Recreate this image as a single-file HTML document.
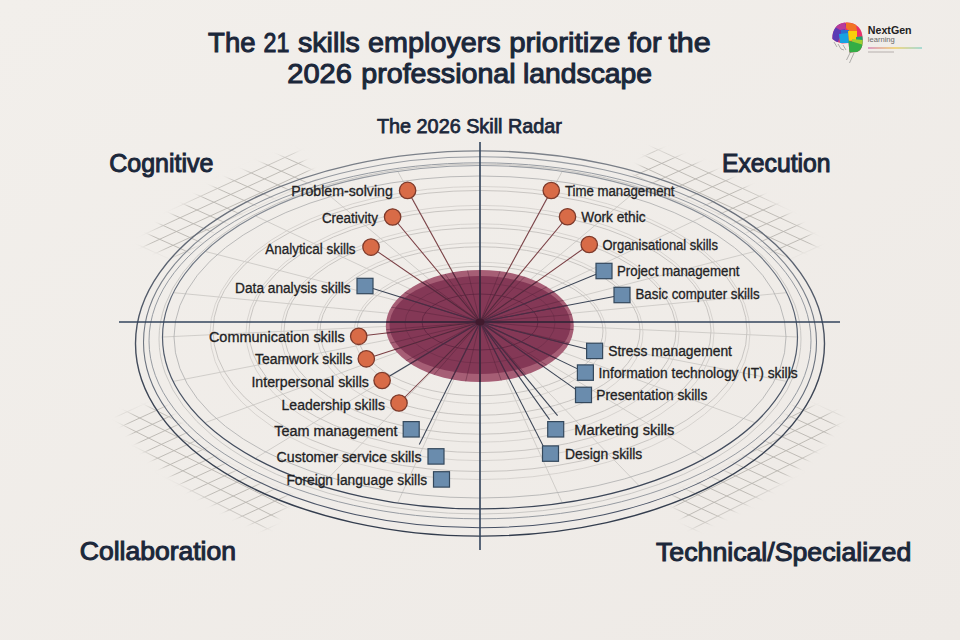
<!DOCTYPE html>
<html><head><meta charset="utf-8"><style>
html,body{margin:0;padding:0;background:#f0ece8;}
svg{display:block;}
text{font-family:"Liberation Sans",sans-serif;}
</style></head><body>
<svg width="960" height="640" viewBox="0 0 960 640">
<defs>
</defs>
<linearGradient id="gD" x1="0" y1="0" x2="0" y2="1"><stop offset="0" stop-color="#7d828a"/><stop offset="0.3" stop-color="#5a6270"/><stop offset="0.6" stop-color="#3d4656"/><stop offset="1" stop-color="#323c4d"/></linearGradient>
<linearGradient id="gM" x1="0" y1="0" x2="0" y2="1"><stop offset="0" stop-color="#999da3"/><stop offset="0.5" stop-color="#6f7681"/><stop offset="1" stop-color="#465064"/></linearGradient>
<linearGradient id="gD2" x1="0" y1="0" x2="0" y2="1"><stop offset="0" stop-color="#9a9ea4"/><stop offset="0.45" stop-color="#566070"/><stop offset="1" stop-color="#3a4456"/></linearGradient>
<linearGradient id="bgg" x1="0" y1="0" x2="1" y2="1"><stop offset="0" stop-color="#f2efeb"/><stop offset="1" stop-color="#eeeae6"/></linearGradient>
<rect width="960" height="640" fill="url(#bgg)"/>

<defs><filter id="blur4" x="-20%" y="-20%" width="140%" height="140%"><feGaussianBlur stdDeviation="3"/></filter></defs>
<mask id="mUL" maskUnits="userSpaceOnUse" x="0" y="0" width="960" height="640"><path d="M181.5,258.6 L185.4,254.5 L189.4,250.5 L193.6,246.5 L198.0,242.6 L202.5,238.8 L207.3,235.0 L212.2,231.3 L217.2,227.6 L222.4,224.1 L227.8,220.6 L233.3,217.1 L239.0,213.8 L244.8,210.5 L250.8,207.3 L256.9,204.2 L263.2,201.2 L269.6,198.3 L276.1,195.4 L282.7,192.7 L289.5,190.0 L296.3,187.5 L303.3,185.0 L310.4,182.6 L317.6,180.3 L295.8,152.3 L287.6,155.0 L279.6,157.8 L271.6,160.7 L263.9,163.7 L256.2,166.8 L248.7,170.0 L241.3,173.4 L234.1,176.8 L227.0,180.4 L220.0,184.0 L213.3,187.7 L206.7,191.6 L200.2,195.5 L193.9,199.5 L187.8,203.6 L181.9,207.8 L176.2,212.1 L170.6,216.4 L165.3,220.8 L160.1,225.3 L155.1,229.9 L150.4,234.5 L145.8,239.3 L141.4,244.0Z" fill="#fff" filter="url(#blur4)"/></mask>
<g mask="url(#mUL)" stroke="#b9b5b0" stroke-width="0.9">
<line x1="60.0" y1="-247.6" x2="900.0" y2="-634.0"/>
<line x1="60.0" y1="-235.5" x2="900.0" y2="-621.9"/>
<line x1="60.0" y1="-223.4" x2="900.0" y2="-609.8"/>
<line x1="60.0" y1="-211.3" x2="900.0" y2="-597.7"/>
<line x1="60.0" y1="-199.2" x2="900.0" y2="-585.6"/>
<line x1="60.0" y1="-187.1" x2="900.0" y2="-573.5"/>
<line x1="60.0" y1="-175.0" x2="900.0" y2="-561.4"/>
<line x1="60.0" y1="-162.8" x2="900.0" y2="-549.2"/>
<line x1="60.0" y1="-150.7" x2="900.0" y2="-537.1"/>
<line x1="60.0" y1="-138.6" x2="900.0" y2="-525.0"/>
<line x1="60.0" y1="-126.5" x2="900.0" y2="-512.9"/>
<line x1="60.0" y1="-114.4" x2="900.0" y2="-500.8"/>
<line x1="60.0" y1="-102.3" x2="900.0" y2="-488.7"/>
<line x1="60.0" y1="-90.2" x2="900.0" y2="-476.6"/>
<line x1="60.0" y1="-78.1" x2="900.0" y2="-464.5"/>
<line x1="60.0" y1="-66.0" x2="900.0" y2="-452.4"/>
<line x1="60.0" y1="-53.9" x2="900.0" y2="-440.3"/>
<line x1="60.0" y1="-41.8" x2="900.0" y2="-428.2"/>
<line x1="60.0" y1="-29.7" x2="900.0" y2="-416.1"/>
<line x1="60.0" y1="-17.6" x2="900.0" y2="-404.0"/>
<line x1="60.0" y1="-5.4" x2="900.0" y2="-391.8"/>
<line x1="60.0" y1="6.7" x2="900.0" y2="-379.7"/>
<line x1="60.0" y1="18.8" x2="900.0" y2="-367.6"/>
<line x1="60.0" y1="30.9" x2="900.0" y2="-355.5"/>
<line x1="60.0" y1="43.0" x2="900.0" y2="-343.4"/>
<line x1="60.0" y1="55.1" x2="900.0" y2="-331.3"/>
<line x1="60.0" y1="67.2" x2="900.0" y2="-319.2"/>
<line x1="60.0" y1="79.3" x2="900.0" y2="-307.1"/>
<line x1="60.0" y1="91.4" x2="900.0" y2="-295.0"/>
<line x1="60.0" y1="103.5" x2="900.0" y2="-282.9"/>
<line x1="60.0" y1="115.6" x2="900.0" y2="-270.8"/>
<line x1="60.0" y1="127.7" x2="900.0" y2="-258.7"/>
<line x1="60.0" y1="139.9" x2="900.0" y2="-246.5"/>
<line x1="60.0" y1="152.0" x2="900.0" y2="-234.4"/>
<line x1="60.0" y1="164.1" x2="900.0" y2="-222.3"/>
<line x1="60.0" y1="176.2" x2="900.0" y2="-210.2"/>
<line x1="60.0" y1="188.3" x2="900.0" y2="-198.1"/>
<line x1="60.0" y1="200.4" x2="900.0" y2="-186.0"/>
<line x1="60.0" y1="212.5" x2="900.0" y2="-173.9"/>
<line x1="60.0" y1="224.6" x2="900.0" y2="-161.8"/>
<line x1="60.0" y1="236.7" x2="900.0" y2="-149.7"/>
<line x1="60.0" y1="248.8" x2="900.0" y2="-137.6"/>
<line x1="60.0" y1="260.9" x2="900.0" y2="-125.5"/>
<line x1="60.0" y1="273.0" x2="900.0" y2="-113.4"/>
<line x1="60.0" y1="285.1" x2="900.0" y2="-101.3"/>
<line x1="60.0" y1="297.3" x2="900.0" y2="-89.1"/>
<line x1="60.0" y1="309.4" x2="900.0" y2="-77.0"/>
<line x1="60.0" y1="321.5" x2="900.0" y2="-64.9"/>
<line x1="60.0" y1="333.6" x2="900.0" y2="-52.8"/>
<line x1="60.0" y1="345.7" x2="900.0" y2="-40.7"/>
<line x1="60.0" y1="357.8" x2="900.0" y2="-28.6"/>
<line x1="60.0" y1="369.9" x2="900.0" y2="-16.5"/>
<line x1="60.0" y1="382.0" x2="900.0" y2="-4.4"/>
<line x1="60.0" y1="394.1" x2="900.0" y2="7.7"/>
<line x1="60.0" y1="406.2" x2="900.0" y2="19.8"/>
<line x1="60.0" y1="418.3" x2="900.0" y2="31.9"/>
<line x1="60.0" y1="430.4" x2="900.0" y2="44.0"/>
<line x1="60.0" y1="442.6" x2="900.0" y2="56.2"/>
<line x1="60.0" y1="454.7" x2="900.0" y2="68.3"/>
<line x1="60.0" y1="466.8" x2="900.0" y2="80.4"/>
<line x1="60.0" y1="478.9" x2="900.0" y2="92.5"/>
<line x1="60.0" y1="491.0" x2="900.0" y2="104.6"/>
<line x1="60.0" y1="503.1" x2="900.0" y2="116.7"/>
<line x1="60.0" y1="515.2" x2="900.0" y2="128.8"/>
<line x1="60.0" y1="527.3" x2="900.0" y2="140.9"/>
<line x1="60.0" y1="539.4" x2="900.0" y2="153.0"/>
<line x1="60.0" y1="551.5" x2="900.0" y2="165.1"/>
<line x1="60.0" y1="563.6" x2="900.0" y2="177.2"/>
<line x1="60.0" y1="575.7" x2="900.0" y2="189.3"/>
<line x1="60.0" y1="587.8" x2="900.0" y2="201.4"/>
<line x1="60.0" y1="600.0" x2="900.0" y2="213.6"/>
<line x1="60.0" y1="612.1" x2="900.0" y2="225.7"/>
<line x1="60.0" y1="624.2" x2="900.0" y2="237.8"/>
<line x1="60.0" y1="636.3" x2="900.0" y2="249.9"/>
<line x1="60.0" y1="648.4" x2="900.0" y2="262.0"/>
<line x1="60.0" y1="660.5" x2="900.0" y2="274.1"/>
<line x1="60.0" y1="672.6" x2="900.0" y2="286.2"/>
<line x1="60.0" y1="684.7" x2="900.0" y2="298.3"/>
<line x1="60.0" y1="696.8" x2="900.0" y2="310.4"/>
<line x1="60.0" y1="708.9" x2="900.0" y2="322.5"/>
<line x1="60.0" y1="721.0" x2="900.0" y2="334.6"/>
<line x1="60.0" y1="733.1" x2="900.0" y2="346.7"/>
<line x1="60.0" y1="745.3" x2="900.0" y2="358.9"/>
<line x1="60.0" y1="757.4" x2="900.0" y2="371.0"/>
<line x1="60.0" y1="769.5" x2="900.0" y2="383.1"/>
<line x1="60.0" y1="781.6" x2="900.0" y2="395.2"/>
<line x1="60.0" y1="793.7" x2="900.0" y2="407.3"/>
<line x1="60.0" y1="805.8" x2="900.0" y2="419.4"/>
<line x1="60.0" y1="817.9" x2="900.0" y2="431.5"/>
<line x1="60.0" y1="830.0" x2="900.0" y2="443.6"/>
<line x1="60.0" y1="842.1" x2="900.0" y2="455.7"/>
<line x1="60.0" y1="854.2" x2="900.0" y2="467.8"/>
<line x1="60.0" y1="866.3" x2="900.0" y2="479.9"/>
<line x1="60.0" y1="878.4" x2="900.0" y2="492.0"/>
<line x1="60.0" y1="890.5" x2="900.0" y2="504.1"/>
<line x1="60.0" y1="902.7" x2="900.0" y2="516.3"/>
<line x1="60.0" y1="914.8" x2="900.0" y2="528.4"/>
<line x1="60.0" y1="926.9" x2="900.0" y2="540.5"/>
<line x1="60.0" y1="939.0" x2="900.0" y2="552.6"/>
<line x1="60.0" y1="951.1" x2="900.0" y2="564.7"/>
<line x1="60.0" y1="963.2" x2="900.0" y2="576.8"/>
<line x1="60.0" y1="975.3" x2="900.0" y2="588.9"/>
<line x1="60.0" y1="987.4" x2="900.0" y2="601.0"/>
<line x1="60.0" y1="999.5" x2="900.0" y2="613.1"/>
<line x1="60.0" y1="1011.6" x2="900.0" y2="625.2"/>
<line x1="60.0" y1="1023.7" x2="900.0" y2="637.3"/>
<line x1="60.0" y1="1035.8" x2="900.0" y2="649.4"/>
<line x1="60.0" y1="1048.0" x2="900.0" y2="661.6"/>
<line x1="60.0" y1="1060.1" x2="900.0" y2="673.7"/>
<line x1="60.0" y1="1072.2" x2="900.0" y2="685.8"/>
<line x1="60.0" y1="1084.3" x2="900.0" y2="697.9"/>
<line x1="60.0" y1="1096.4" x2="900.0" y2="710.0"/>
<line x1="60.0" y1="1108.5" x2="900.0" y2="722.1"/>
<line x1="60.0" y1="1120.6" x2="900.0" y2="734.2"/>
<line x1="60.0" y1="1132.7" x2="900.0" y2="746.3"/>
<line x1="60.0" y1="1144.8" x2="900.0" y2="758.4"/>
<line x1="60.0" y1="1156.9" x2="900.0" y2="770.5"/>
<line x1="60.0" y1="1169.0" x2="900.0" y2="782.6"/>
<line x1="60.0" y1="1181.1" x2="900.0" y2="794.7"/>
<line x1="60.0" y1="1193.2" x2="900.0" y2="806.8"/>
<line x1="60.0" y1="1205.4" x2="900.0" y2="819.0"/>
<line x1="60.0" y1="1217.5" x2="900.0" y2="831.1"/>
<line x1="60.0" y1="1229.6" x2="900.0" y2="843.2"/>
<line x1="60.0" y1="1241.7" x2="900.0" y2="855.3"/>
<line x1="60.0" y1="1253.8" x2="900.0" y2="867.4"/>
<line x1="60.0" y1="1265.9" x2="900.0" y2="879.5"/>
<line x1="60.0" y1="1278.0" x2="900.0" y2="891.6"/>
<line x1="60.0" y1="-634.6" x2="900.0" y2="-256.6"/>
<line x1="60.0" y1="-619.3" x2="900.0" y2="-241.3"/>
<line x1="60.0" y1="-603.9" x2="900.0" y2="-225.9"/>
<line x1="60.0" y1="-588.6" x2="900.0" y2="-210.6"/>
<line x1="60.0" y1="-573.2" x2="900.0" y2="-195.2"/>
<line x1="60.0" y1="-557.8" x2="900.0" y2="-179.8"/>
<line x1="60.0" y1="-542.5" x2="900.0" y2="-164.5"/>
<line x1="60.0" y1="-527.1" x2="900.0" y2="-149.1"/>
<line x1="60.0" y1="-511.8" x2="900.0" y2="-133.8"/>
<line x1="60.0" y1="-496.4" x2="900.0" y2="-118.4"/>
<line x1="60.0" y1="-481.1" x2="900.0" y2="-103.1"/>
<line x1="60.0" y1="-465.7" x2="900.0" y2="-87.7"/>
<line x1="60.0" y1="-450.4" x2="900.0" y2="-72.4"/>
<line x1="60.0" y1="-435.0" x2="900.0" y2="-57.0"/>
<line x1="60.0" y1="-419.7" x2="900.0" y2="-41.7"/>
<line x1="60.0" y1="-404.3" x2="900.0" y2="-26.3"/>
<line x1="60.0" y1="-389.0" x2="900.0" y2="-11.0"/>
<line x1="60.0" y1="-373.6" x2="900.0" y2="4.4"/>
<line x1="60.0" y1="-358.3" x2="900.0" y2="19.7"/>
<line x1="60.0" y1="-342.9" x2="900.0" y2="35.1"/>
<line x1="60.0" y1="-327.6" x2="900.0" y2="50.4"/>
<line x1="60.0" y1="-312.2" x2="900.0" y2="65.8"/>
<line x1="60.0" y1="-296.9" x2="900.0" y2="81.1"/>
<line x1="60.0" y1="-281.5" x2="900.0" y2="96.5"/>
<line x1="60.0" y1="-266.2" x2="900.0" y2="111.8"/>
<line x1="60.0" y1="-250.8" x2="900.0" y2="127.2"/>
<line x1="60.0" y1="-235.5" x2="900.0" y2="142.5"/>
<line x1="60.0" y1="-220.1" x2="900.0" y2="157.9"/>
<line x1="60.0" y1="-204.7" x2="900.0" y2="173.3"/>
<line x1="60.0" y1="-189.4" x2="900.0" y2="188.6"/>
<line x1="60.0" y1="-174.0" x2="900.0" y2="204.0"/>
<line x1="60.0" y1="-158.7" x2="900.0" y2="219.3"/>
<line x1="60.0" y1="-143.3" x2="900.0" y2="234.7"/>
<line x1="60.0" y1="-128.0" x2="900.0" y2="250.0"/>
<line x1="60.0" y1="-112.6" x2="900.0" y2="265.4"/>
<line x1="60.0" y1="-97.3" x2="900.0" y2="280.7"/>
<line x1="60.0" y1="-81.9" x2="900.0" y2="296.1"/>
<line x1="60.0" y1="-66.6" x2="900.0" y2="311.4"/>
<line x1="60.0" y1="-51.2" x2="900.0" y2="326.8"/>
<line x1="60.0" y1="-35.9" x2="900.0" y2="342.1"/>
<line x1="60.0" y1="-20.5" x2="900.0" y2="357.5"/>
<line x1="60.0" y1="-5.2" x2="900.0" y2="372.8"/>
<line x1="60.0" y1="10.2" x2="900.0" y2="388.2"/>
<line x1="60.0" y1="25.5" x2="900.0" y2="403.5"/>
<line x1="60.0" y1="40.9" x2="900.0" y2="418.9"/>
<line x1="60.0" y1="56.2" x2="900.0" y2="434.2"/>
<line x1="60.0" y1="71.6" x2="900.0" y2="449.6"/>
<line x1="60.0" y1="86.9" x2="900.0" y2="464.9"/>
<line x1="60.0" y1="102.3" x2="900.0" y2="480.3"/>
<line x1="60.0" y1="117.6" x2="900.0" y2="495.6"/>
<line x1="60.0" y1="133.0" x2="900.0" y2="511.0"/>
<line x1="60.0" y1="148.4" x2="900.0" y2="526.4"/>
<line x1="60.0" y1="163.7" x2="900.0" y2="541.7"/>
<line x1="60.0" y1="179.1" x2="900.0" y2="557.1"/>
<line x1="60.0" y1="194.4" x2="900.0" y2="572.4"/>
<line x1="60.0" y1="209.8" x2="900.0" y2="587.8"/>
<line x1="60.0" y1="225.1" x2="900.0" y2="603.1"/>
<line x1="60.0" y1="240.5" x2="900.0" y2="618.5"/>
<line x1="60.0" y1="255.8" x2="900.0" y2="633.8"/>
<line x1="60.0" y1="271.2" x2="900.0" y2="649.2"/>
<line x1="60.0" y1="286.5" x2="900.0" y2="664.5"/>
<line x1="60.0" y1="301.9" x2="900.0" y2="679.9"/>
<line x1="60.0" y1="317.2" x2="900.0" y2="695.2"/>
<line x1="60.0" y1="332.6" x2="900.0" y2="710.6"/>
<line x1="60.0" y1="347.9" x2="900.0" y2="725.9"/>
<line x1="60.0" y1="363.3" x2="900.0" y2="741.3"/>
<line x1="60.0" y1="378.6" x2="900.0" y2="756.6"/>
<line x1="60.0" y1="394.0" x2="900.0" y2="772.0"/>
<line x1="60.0" y1="409.3" x2="900.0" y2="787.3"/>
<line x1="60.0" y1="424.7" x2="900.0" y2="802.7"/>
<line x1="60.0" y1="440.0" x2="900.0" y2="818.0"/>
<line x1="60.0" y1="455.4" x2="900.0" y2="833.4"/>
<line x1="60.0" y1="470.7" x2="900.0" y2="848.7"/>
<line x1="60.0" y1="486.1" x2="900.0" y2="864.1"/>
<line x1="60.0" y1="501.5" x2="900.0" y2="879.5"/>
<line x1="60.0" y1="516.8" x2="900.0" y2="894.8"/>
<line x1="60.0" y1="532.2" x2="900.0" y2="910.2"/>
<line x1="60.0" y1="547.5" x2="900.0" y2="925.5"/>
<line x1="60.0" y1="562.9" x2="900.0" y2="940.9"/>
<line x1="60.0" y1="578.2" x2="900.0" y2="956.2"/>
<line x1="60.0" y1="593.6" x2="900.0" y2="971.6"/>
<line x1="60.0" y1="608.9" x2="900.0" y2="986.9"/>
<line x1="60.0" y1="624.3" x2="900.0" y2="1002.3"/>
<line x1="60.0" y1="639.6" x2="900.0" y2="1017.6"/>
<line x1="60.0" y1="655.0" x2="900.0" y2="1033.0"/>
<line x1="60.0" y1="670.3" x2="900.0" y2="1048.3"/>
<line x1="60.0" y1="685.7" x2="900.0" y2="1063.7"/>
<line x1="60.0" y1="701.0" x2="900.0" y2="1079.0"/>
<line x1="60.0" y1="716.4" x2="900.0" y2="1094.4"/>
<line x1="60.0" y1="731.7" x2="900.0" y2="1109.7"/>
<line x1="60.0" y1="747.1" x2="900.0" y2="1125.1"/>
<line x1="60.0" y1="762.4" x2="900.0" y2="1140.4"/>
<line x1="60.0" y1="777.8" x2="900.0" y2="1155.8"/>
<line x1="60.0" y1="793.1" x2="900.0" y2="1171.1"/>
<line x1="60.0" y1="808.5" x2="900.0" y2="1186.5"/>
<line x1="60.0" y1="823.8" x2="900.0" y2="1201.8"/>
<line x1="60.0" y1="839.2" x2="900.0" y2="1217.2"/>
<line x1="60.0" y1="854.6" x2="900.0" y2="1232.6"/>
<line x1="60.0" y1="869.9" x2="900.0" y2="1247.9"/>
<line x1="60.0" y1="885.3" x2="900.0" y2="1263.3"/>
<line x1="60.0" y1="900.6" x2="900.0" y2="1278.6"/>
</g>
<mask id="mUR" maskUnits="userSpaceOnUse" x="0" y="0" width="960" height="640"><path d="M632.1,177.3 L639.8,179.5 L647.5,181.9 L655.0,184.4 L662.5,187.0 L669.7,189.7 L676.9,192.5 L683.9,195.4 L690.8,198.5 L697.6,201.6 L704.2,204.8 L710.6,208.1 L716.9,211.5 L723.0,215.0 L729.0,218.5 L734.7,222.2 L740.3,225.9 L745.8,229.8 L751.0,233.7 L756.1,237.6 L761.0,241.7 L765.6,245.8 L770.1,250.0 L774.4,254.2 L778.5,258.6 L818.6,244.0 L814.0,239.0 L809.1,234.0 L804.0,229.1 L798.7,224.3 L793.2,219.5 L787.4,214.9 L781.5,210.3 L775.3,205.8 L769.0,201.4 L762.4,197.1 L755.6,192.9 L748.7,188.9 L741.6,184.9 L734.3,181.0 L726.8,177.2 L719.1,173.6 L711.3,170.0 L703.4,166.6 L695.2,163.3 L687.0,160.2 L678.5,157.1 L670.0,154.2 L661.3,151.4 L652.5,148.8Z" fill="#fff" filter="url(#blur4)"/></mask>
<g mask="url(#mUR)" stroke="#b9b5b0" stroke-width="0.9">
<line x1="60.0" y1="-634.0" x2="900.0" y2="-247.6"/>
<line x1="60.0" y1="-621.9" x2="900.0" y2="-235.5"/>
<line x1="60.0" y1="-609.8" x2="900.0" y2="-223.4"/>
<line x1="60.0" y1="-597.7" x2="900.0" y2="-211.3"/>
<line x1="60.0" y1="-585.6" x2="900.0" y2="-199.2"/>
<line x1="60.0" y1="-573.5" x2="900.0" y2="-187.1"/>
<line x1="60.0" y1="-561.4" x2="900.0" y2="-175.0"/>
<line x1="60.0" y1="-549.2" x2="900.0" y2="-162.8"/>
<line x1="60.0" y1="-537.1" x2="900.0" y2="-150.7"/>
<line x1="60.0" y1="-525.0" x2="900.0" y2="-138.6"/>
<line x1="60.0" y1="-512.9" x2="900.0" y2="-126.5"/>
<line x1="60.0" y1="-500.8" x2="900.0" y2="-114.4"/>
<line x1="60.0" y1="-488.7" x2="900.0" y2="-102.3"/>
<line x1="60.0" y1="-476.6" x2="900.0" y2="-90.2"/>
<line x1="60.0" y1="-464.5" x2="900.0" y2="-78.1"/>
<line x1="60.0" y1="-452.4" x2="900.0" y2="-66.0"/>
<line x1="60.0" y1="-440.3" x2="900.0" y2="-53.9"/>
<line x1="60.0" y1="-428.2" x2="900.0" y2="-41.8"/>
<line x1="60.0" y1="-416.1" x2="900.0" y2="-29.7"/>
<line x1="60.0" y1="-404.0" x2="900.0" y2="-17.6"/>
<line x1="60.0" y1="-391.8" x2="900.0" y2="-5.4"/>
<line x1="60.0" y1="-379.7" x2="900.0" y2="6.7"/>
<line x1="60.0" y1="-367.6" x2="900.0" y2="18.8"/>
<line x1="60.0" y1="-355.5" x2="900.0" y2="30.9"/>
<line x1="60.0" y1="-343.4" x2="900.0" y2="43.0"/>
<line x1="60.0" y1="-331.3" x2="900.0" y2="55.1"/>
<line x1="60.0" y1="-319.2" x2="900.0" y2="67.2"/>
<line x1="60.0" y1="-307.1" x2="900.0" y2="79.3"/>
<line x1="60.0" y1="-295.0" x2="900.0" y2="91.4"/>
<line x1="60.0" y1="-282.9" x2="900.0" y2="103.5"/>
<line x1="60.0" y1="-270.8" x2="900.0" y2="115.6"/>
<line x1="60.0" y1="-258.7" x2="900.0" y2="127.7"/>
<line x1="60.0" y1="-246.5" x2="900.0" y2="139.9"/>
<line x1="60.0" y1="-234.4" x2="900.0" y2="152.0"/>
<line x1="60.0" y1="-222.3" x2="900.0" y2="164.1"/>
<line x1="60.0" y1="-210.2" x2="900.0" y2="176.2"/>
<line x1="60.0" y1="-198.1" x2="900.0" y2="188.3"/>
<line x1="60.0" y1="-186.0" x2="900.0" y2="200.4"/>
<line x1="60.0" y1="-173.9" x2="900.0" y2="212.5"/>
<line x1="60.0" y1="-161.8" x2="900.0" y2="224.6"/>
<line x1="60.0" y1="-149.7" x2="900.0" y2="236.7"/>
<line x1="60.0" y1="-137.6" x2="900.0" y2="248.8"/>
<line x1="60.0" y1="-125.5" x2="900.0" y2="260.9"/>
<line x1="60.0" y1="-113.4" x2="900.0" y2="273.0"/>
<line x1="60.0" y1="-101.3" x2="900.0" y2="285.1"/>
<line x1="60.0" y1="-89.1" x2="900.0" y2="297.3"/>
<line x1="60.0" y1="-77.0" x2="900.0" y2="309.4"/>
<line x1="60.0" y1="-64.9" x2="900.0" y2="321.5"/>
<line x1="60.0" y1="-52.8" x2="900.0" y2="333.6"/>
<line x1="60.0" y1="-40.7" x2="900.0" y2="345.7"/>
<line x1="60.0" y1="-28.6" x2="900.0" y2="357.8"/>
<line x1="60.0" y1="-16.5" x2="900.0" y2="369.9"/>
<line x1="60.0" y1="-4.4" x2="900.0" y2="382.0"/>
<line x1="60.0" y1="7.7" x2="900.0" y2="394.1"/>
<line x1="60.0" y1="19.8" x2="900.0" y2="406.2"/>
<line x1="60.0" y1="31.9" x2="900.0" y2="418.3"/>
<line x1="60.0" y1="44.0" x2="900.0" y2="430.4"/>
<line x1="60.0" y1="56.2" x2="900.0" y2="442.6"/>
<line x1="60.0" y1="68.3" x2="900.0" y2="454.7"/>
<line x1="60.0" y1="80.4" x2="900.0" y2="466.8"/>
<line x1="60.0" y1="92.5" x2="900.0" y2="478.9"/>
<line x1="60.0" y1="104.6" x2="900.0" y2="491.0"/>
<line x1="60.0" y1="116.7" x2="900.0" y2="503.1"/>
<line x1="60.0" y1="128.8" x2="900.0" y2="515.2"/>
<line x1="60.0" y1="140.9" x2="900.0" y2="527.3"/>
<line x1="60.0" y1="153.0" x2="900.0" y2="539.4"/>
<line x1="60.0" y1="165.1" x2="900.0" y2="551.5"/>
<line x1="60.0" y1="177.2" x2="900.0" y2="563.6"/>
<line x1="60.0" y1="189.3" x2="900.0" y2="575.7"/>
<line x1="60.0" y1="201.4" x2="900.0" y2="587.8"/>
<line x1="60.0" y1="213.6" x2="900.0" y2="600.0"/>
<line x1="60.0" y1="225.7" x2="900.0" y2="612.1"/>
<line x1="60.0" y1="237.8" x2="900.0" y2="624.2"/>
<line x1="60.0" y1="249.9" x2="900.0" y2="636.3"/>
<line x1="60.0" y1="262.0" x2="900.0" y2="648.4"/>
<line x1="60.0" y1="274.1" x2="900.0" y2="660.5"/>
<line x1="60.0" y1="286.2" x2="900.0" y2="672.6"/>
<line x1="60.0" y1="298.3" x2="900.0" y2="684.7"/>
<line x1="60.0" y1="310.4" x2="900.0" y2="696.8"/>
<line x1="60.0" y1="322.5" x2="900.0" y2="708.9"/>
<line x1="60.0" y1="334.6" x2="900.0" y2="721.0"/>
<line x1="60.0" y1="346.7" x2="900.0" y2="733.1"/>
<line x1="60.0" y1="358.9" x2="900.0" y2="745.3"/>
<line x1="60.0" y1="371.0" x2="900.0" y2="757.4"/>
<line x1="60.0" y1="383.1" x2="900.0" y2="769.5"/>
<line x1="60.0" y1="395.2" x2="900.0" y2="781.6"/>
<line x1="60.0" y1="407.3" x2="900.0" y2="793.7"/>
<line x1="60.0" y1="419.4" x2="900.0" y2="805.8"/>
<line x1="60.0" y1="431.5" x2="900.0" y2="817.9"/>
<line x1="60.0" y1="443.6" x2="900.0" y2="830.0"/>
<line x1="60.0" y1="455.7" x2="900.0" y2="842.1"/>
<line x1="60.0" y1="467.8" x2="900.0" y2="854.2"/>
<line x1="60.0" y1="479.9" x2="900.0" y2="866.3"/>
<line x1="60.0" y1="492.0" x2="900.0" y2="878.4"/>
<line x1="60.0" y1="504.1" x2="900.0" y2="890.5"/>
<line x1="60.0" y1="516.3" x2="900.0" y2="902.7"/>
<line x1="60.0" y1="528.4" x2="900.0" y2="914.8"/>
<line x1="60.0" y1="540.5" x2="900.0" y2="926.9"/>
<line x1="60.0" y1="552.6" x2="900.0" y2="939.0"/>
<line x1="60.0" y1="564.7" x2="900.0" y2="951.1"/>
<line x1="60.0" y1="576.8" x2="900.0" y2="963.2"/>
<line x1="60.0" y1="588.9" x2="900.0" y2="975.3"/>
<line x1="60.0" y1="601.0" x2="900.0" y2="987.4"/>
<line x1="60.0" y1="613.1" x2="900.0" y2="999.5"/>
<line x1="60.0" y1="625.2" x2="900.0" y2="1011.6"/>
<line x1="60.0" y1="637.3" x2="900.0" y2="1023.7"/>
<line x1="60.0" y1="649.4" x2="900.0" y2="1035.8"/>
<line x1="60.0" y1="661.6" x2="900.0" y2="1048.0"/>
<line x1="60.0" y1="673.7" x2="900.0" y2="1060.1"/>
<line x1="60.0" y1="685.8" x2="900.0" y2="1072.2"/>
<line x1="60.0" y1="697.9" x2="900.0" y2="1084.3"/>
<line x1="60.0" y1="710.0" x2="900.0" y2="1096.4"/>
<line x1="60.0" y1="722.1" x2="900.0" y2="1108.5"/>
<line x1="60.0" y1="734.2" x2="900.0" y2="1120.6"/>
<line x1="60.0" y1="746.3" x2="900.0" y2="1132.7"/>
<line x1="60.0" y1="758.4" x2="900.0" y2="1144.8"/>
<line x1="60.0" y1="770.5" x2="900.0" y2="1156.9"/>
<line x1="60.0" y1="782.6" x2="900.0" y2="1169.0"/>
<line x1="60.0" y1="794.7" x2="900.0" y2="1181.1"/>
<line x1="60.0" y1="806.8" x2="900.0" y2="1193.2"/>
<line x1="60.0" y1="819.0" x2="900.0" y2="1205.4"/>
<line x1="60.0" y1="831.1" x2="900.0" y2="1217.5"/>
<line x1="60.0" y1="843.2" x2="900.0" y2="1229.6"/>
<line x1="60.0" y1="855.3" x2="900.0" y2="1241.7"/>
<line x1="60.0" y1="867.4" x2="900.0" y2="1253.8"/>
<line x1="60.0" y1="879.5" x2="900.0" y2="1265.9"/>
<line x1="60.0" y1="891.6" x2="900.0" y2="1278.0"/>
<line x1="60.0" y1="-256.6" x2="900.0" y2="-634.6"/>
<line x1="60.0" y1="-241.3" x2="900.0" y2="-619.3"/>
<line x1="60.0" y1="-225.9" x2="900.0" y2="-603.9"/>
<line x1="60.0" y1="-210.6" x2="900.0" y2="-588.6"/>
<line x1="60.0" y1="-195.2" x2="900.0" y2="-573.2"/>
<line x1="60.0" y1="-179.8" x2="900.0" y2="-557.8"/>
<line x1="60.0" y1="-164.5" x2="900.0" y2="-542.5"/>
<line x1="60.0" y1="-149.1" x2="900.0" y2="-527.1"/>
<line x1="60.0" y1="-133.8" x2="900.0" y2="-511.8"/>
<line x1="60.0" y1="-118.4" x2="900.0" y2="-496.4"/>
<line x1="60.0" y1="-103.1" x2="900.0" y2="-481.1"/>
<line x1="60.0" y1="-87.7" x2="900.0" y2="-465.7"/>
<line x1="60.0" y1="-72.4" x2="900.0" y2="-450.4"/>
<line x1="60.0" y1="-57.0" x2="900.0" y2="-435.0"/>
<line x1="60.0" y1="-41.7" x2="900.0" y2="-419.7"/>
<line x1="60.0" y1="-26.3" x2="900.0" y2="-404.3"/>
<line x1="60.0" y1="-11.0" x2="900.0" y2="-389.0"/>
<line x1="60.0" y1="4.4" x2="900.0" y2="-373.6"/>
<line x1="60.0" y1="19.7" x2="900.0" y2="-358.3"/>
<line x1="60.0" y1="35.1" x2="900.0" y2="-342.9"/>
<line x1="60.0" y1="50.4" x2="900.0" y2="-327.6"/>
<line x1="60.0" y1="65.8" x2="900.0" y2="-312.2"/>
<line x1="60.0" y1="81.1" x2="900.0" y2="-296.9"/>
<line x1="60.0" y1="96.5" x2="900.0" y2="-281.5"/>
<line x1="60.0" y1="111.8" x2="900.0" y2="-266.2"/>
<line x1="60.0" y1="127.2" x2="900.0" y2="-250.8"/>
<line x1="60.0" y1="142.5" x2="900.0" y2="-235.5"/>
<line x1="60.0" y1="157.9" x2="900.0" y2="-220.1"/>
<line x1="60.0" y1="173.3" x2="900.0" y2="-204.7"/>
<line x1="60.0" y1="188.6" x2="900.0" y2="-189.4"/>
<line x1="60.0" y1="204.0" x2="900.0" y2="-174.0"/>
<line x1="60.0" y1="219.3" x2="900.0" y2="-158.7"/>
<line x1="60.0" y1="234.7" x2="900.0" y2="-143.3"/>
<line x1="60.0" y1="250.0" x2="900.0" y2="-128.0"/>
<line x1="60.0" y1="265.4" x2="900.0" y2="-112.6"/>
<line x1="60.0" y1="280.7" x2="900.0" y2="-97.3"/>
<line x1="60.0" y1="296.1" x2="900.0" y2="-81.9"/>
<line x1="60.0" y1="311.4" x2="900.0" y2="-66.6"/>
<line x1="60.0" y1="326.8" x2="900.0" y2="-51.2"/>
<line x1="60.0" y1="342.1" x2="900.0" y2="-35.9"/>
<line x1="60.0" y1="357.5" x2="900.0" y2="-20.5"/>
<line x1="60.0" y1="372.8" x2="900.0" y2="-5.2"/>
<line x1="60.0" y1="388.2" x2="900.0" y2="10.2"/>
<line x1="60.0" y1="403.5" x2="900.0" y2="25.5"/>
<line x1="60.0" y1="418.9" x2="900.0" y2="40.9"/>
<line x1="60.0" y1="434.2" x2="900.0" y2="56.2"/>
<line x1="60.0" y1="449.6" x2="900.0" y2="71.6"/>
<line x1="60.0" y1="464.9" x2="900.0" y2="86.9"/>
<line x1="60.0" y1="480.3" x2="900.0" y2="102.3"/>
<line x1="60.0" y1="495.6" x2="900.0" y2="117.6"/>
<line x1="60.0" y1="511.0" x2="900.0" y2="133.0"/>
<line x1="60.0" y1="526.4" x2="900.0" y2="148.4"/>
<line x1="60.0" y1="541.7" x2="900.0" y2="163.7"/>
<line x1="60.0" y1="557.1" x2="900.0" y2="179.1"/>
<line x1="60.0" y1="572.4" x2="900.0" y2="194.4"/>
<line x1="60.0" y1="587.8" x2="900.0" y2="209.8"/>
<line x1="60.0" y1="603.1" x2="900.0" y2="225.1"/>
<line x1="60.0" y1="618.5" x2="900.0" y2="240.5"/>
<line x1="60.0" y1="633.8" x2="900.0" y2="255.8"/>
<line x1="60.0" y1="649.2" x2="900.0" y2="271.2"/>
<line x1="60.0" y1="664.5" x2="900.0" y2="286.5"/>
<line x1="60.0" y1="679.9" x2="900.0" y2="301.9"/>
<line x1="60.0" y1="695.2" x2="900.0" y2="317.2"/>
<line x1="60.0" y1="710.6" x2="900.0" y2="332.6"/>
<line x1="60.0" y1="725.9" x2="900.0" y2="347.9"/>
<line x1="60.0" y1="741.3" x2="900.0" y2="363.3"/>
<line x1="60.0" y1="756.6" x2="900.0" y2="378.6"/>
<line x1="60.0" y1="772.0" x2="900.0" y2="394.0"/>
<line x1="60.0" y1="787.3" x2="900.0" y2="409.3"/>
<line x1="60.0" y1="802.7" x2="900.0" y2="424.7"/>
<line x1="60.0" y1="818.0" x2="900.0" y2="440.0"/>
<line x1="60.0" y1="833.4" x2="900.0" y2="455.4"/>
<line x1="60.0" y1="848.7" x2="900.0" y2="470.7"/>
<line x1="60.0" y1="864.1" x2="900.0" y2="486.1"/>
<line x1="60.0" y1="879.5" x2="900.0" y2="501.5"/>
<line x1="60.0" y1="894.8" x2="900.0" y2="516.8"/>
<line x1="60.0" y1="910.2" x2="900.0" y2="532.2"/>
<line x1="60.0" y1="925.5" x2="900.0" y2="547.5"/>
<line x1="60.0" y1="940.9" x2="900.0" y2="562.9"/>
<line x1="60.0" y1="956.2" x2="900.0" y2="578.2"/>
<line x1="60.0" y1="971.6" x2="900.0" y2="593.6"/>
<line x1="60.0" y1="986.9" x2="900.0" y2="608.9"/>
<line x1="60.0" y1="1002.3" x2="900.0" y2="624.3"/>
<line x1="60.0" y1="1017.6" x2="900.0" y2="639.6"/>
<line x1="60.0" y1="1033.0" x2="900.0" y2="655.0"/>
<line x1="60.0" y1="1048.3" x2="900.0" y2="670.3"/>
<line x1="60.0" y1="1063.7" x2="900.0" y2="685.7"/>
<line x1="60.0" y1="1079.0" x2="900.0" y2="701.0"/>
<line x1="60.0" y1="1094.4" x2="900.0" y2="716.4"/>
<line x1="60.0" y1="1109.7" x2="900.0" y2="731.7"/>
<line x1="60.0" y1="1125.1" x2="900.0" y2="747.1"/>
<line x1="60.0" y1="1140.4" x2="900.0" y2="762.4"/>
<line x1="60.0" y1="1155.8" x2="900.0" y2="777.8"/>
<line x1="60.0" y1="1171.1" x2="900.0" y2="793.1"/>
<line x1="60.0" y1="1186.5" x2="900.0" y2="808.5"/>
<line x1="60.0" y1="1201.8" x2="900.0" y2="823.8"/>
<line x1="60.0" y1="1217.2" x2="900.0" y2="839.2"/>
<line x1="60.0" y1="1232.6" x2="900.0" y2="854.6"/>
<line x1="60.0" y1="1247.9" x2="900.0" y2="869.9"/>
<line x1="60.0" y1="1263.3" x2="900.0" y2="885.3"/>
<line x1="60.0" y1="1278.6" x2="900.0" y2="900.6"/>
</g>
<mask id="mLL" maskUnits="userSpaceOnUse" x="0" y="0" width="960" height="640"><path d="M292.7,497.2 L285.3,494.3 L278.0,491.4 L270.9,488.3 L263.9,485.1 L257.1,481.9 L250.5,478.5 L244.0,475.0 L237.7,471.4 L231.5,467.8 L225.6,464.0 L219.8,460.2 L214.2,456.2 L208.8,452.2 L203.6,448.1 L198.6,444.0 L193.9,439.7 L189.3,435.4 L184.9,431.0 L180.7,426.6 L176.8,422.1 L173.1,417.5 L169.6,412.9 L166.3,408.3 L163.3,403.6 L118.8,415.9 L122.3,421.6 L126.0,427.2 L130.0,432.8 L134.3,438.3 L138.8,443.7 L143.5,449.0 L148.5,454.3 L153.7,459.5 L159.2,464.6 L164.9,469.6 L170.8,474.5 L176.9,479.4 L183.3,484.1 L189.9,488.7 L196.7,493.2 L203.7,497.7 L210.9,502.0 L218.3,506.2 L225.8,510.2 L233.6,514.2 L241.5,518.0 L249.7,521.7 L257.9,525.3 L266.4,528.7Z" fill="#fff" filter="url(#blur4)"/></mask>
<g mask="url(#mLL)" stroke="#b9b5b0" stroke-width="0.9">
<line x1="60.0" y1="-247.6" x2="900.0" y2="-634.0"/>
<line x1="60.0" y1="-235.5" x2="900.0" y2="-621.9"/>
<line x1="60.0" y1="-223.4" x2="900.0" y2="-609.8"/>
<line x1="60.0" y1="-211.3" x2="900.0" y2="-597.7"/>
<line x1="60.0" y1="-199.2" x2="900.0" y2="-585.6"/>
<line x1="60.0" y1="-187.1" x2="900.0" y2="-573.5"/>
<line x1="60.0" y1="-175.0" x2="900.0" y2="-561.4"/>
<line x1="60.0" y1="-162.8" x2="900.0" y2="-549.2"/>
<line x1="60.0" y1="-150.7" x2="900.0" y2="-537.1"/>
<line x1="60.0" y1="-138.6" x2="900.0" y2="-525.0"/>
<line x1="60.0" y1="-126.5" x2="900.0" y2="-512.9"/>
<line x1="60.0" y1="-114.4" x2="900.0" y2="-500.8"/>
<line x1="60.0" y1="-102.3" x2="900.0" y2="-488.7"/>
<line x1="60.0" y1="-90.2" x2="900.0" y2="-476.6"/>
<line x1="60.0" y1="-78.1" x2="900.0" y2="-464.5"/>
<line x1="60.0" y1="-66.0" x2="900.0" y2="-452.4"/>
<line x1="60.0" y1="-53.9" x2="900.0" y2="-440.3"/>
<line x1="60.0" y1="-41.8" x2="900.0" y2="-428.2"/>
<line x1="60.0" y1="-29.7" x2="900.0" y2="-416.1"/>
<line x1="60.0" y1="-17.6" x2="900.0" y2="-404.0"/>
<line x1="60.0" y1="-5.4" x2="900.0" y2="-391.8"/>
<line x1="60.0" y1="6.7" x2="900.0" y2="-379.7"/>
<line x1="60.0" y1="18.8" x2="900.0" y2="-367.6"/>
<line x1="60.0" y1="30.9" x2="900.0" y2="-355.5"/>
<line x1="60.0" y1="43.0" x2="900.0" y2="-343.4"/>
<line x1="60.0" y1="55.1" x2="900.0" y2="-331.3"/>
<line x1="60.0" y1="67.2" x2="900.0" y2="-319.2"/>
<line x1="60.0" y1="79.3" x2="900.0" y2="-307.1"/>
<line x1="60.0" y1="91.4" x2="900.0" y2="-295.0"/>
<line x1="60.0" y1="103.5" x2="900.0" y2="-282.9"/>
<line x1="60.0" y1="115.6" x2="900.0" y2="-270.8"/>
<line x1="60.0" y1="127.7" x2="900.0" y2="-258.7"/>
<line x1="60.0" y1="139.9" x2="900.0" y2="-246.5"/>
<line x1="60.0" y1="152.0" x2="900.0" y2="-234.4"/>
<line x1="60.0" y1="164.1" x2="900.0" y2="-222.3"/>
<line x1="60.0" y1="176.2" x2="900.0" y2="-210.2"/>
<line x1="60.0" y1="188.3" x2="900.0" y2="-198.1"/>
<line x1="60.0" y1="200.4" x2="900.0" y2="-186.0"/>
<line x1="60.0" y1="212.5" x2="900.0" y2="-173.9"/>
<line x1="60.0" y1="224.6" x2="900.0" y2="-161.8"/>
<line x1="60.0" y1="236.7" x2="900.0" y2="-149.7"/>
<line x1="60.0" y1="248.8" x2="900.0" y2="-137.6"/>
<line x1="60.0" y1="260.9" x2="900.0" y2="-125.5"/>
<line x1="60.0" y1="273.0" x2="900.0" y2="-113.4"/>
<line x1="60.0" y1="285.1" x2="900.0" y2="-101.3"/>
<line x1="60.0" y1="297.3" x2="900.0" y2="-89.1"/>
<line x1="60.0" y1="309.4" x2="900.0" y2="-77.0"/>
<line x1="60.0" y1="321.5" x2="900.0" y2="-64.9"/>
<line x1="60.0" y1="333.6" x2="900.0" y2="-52.8"/>
<line x1="60.0" y1="345.7" x2="900.0" y2="-40.7"/>
<line x1="60.0" y1="357.8" x2="900.0" y2="-28.6"/>
<line x1="60.0" y1="369.9" x2="900.0" y2="-16.5"/>
<line x1="60.0" y1="382.0" x2="900.0" y2="-4.4"/>
<line x1="60.0" y1="394.1" x2="900.0" y2="7.7"/>
<line x1="60.0" y1="406.2" x2="900.0" y2="19.8"/>
<line x1="60.0" y1="418.3" x2="900.0" y2="31.9"/>
<line x1="60.0" y1="430.4" x2="900.0" y2="44.0"/>
<line x1="60.0" y1="442.6" x2="900.0" y2="56.2"/>
<line x1="60.0" y1="454.7" x2="900.0" y2="68.3"/>
<line x1="60.0" y1="466.8" x2="900.0" y2="80.4"/>
<line x1="60.0" y1="478.9" x2="900.0" y2="92.5"/>
<line x1="60.0" y1="491.0" x2="900.0" y2="104.6"/>
<line x1="60.0" y1="503.1" x2="900.0" y2="116.7"/>
<line x1="60.0" y1="515.2" x2="900.0" y2="128.8"/>
<line x1="60.0" y1="527.3" x2="900.0" y2="140.9"/>
<line x1="60.0" y1="539.4" x2="900.0" y2="153.0"/>
<line x1="60.0" y1="551.5" x2="900.0" y2="165.1"/>
<line x1="60.0" y1="563.6" x2="900.0" y2="177.2"/>
<line x1="60.0" y1="575.7" x2="900.0" y2="189.3"/>
<line x1="60.0" y1="587.8" x2="900.0" y2="201.4"/>
<line x1="60.0" y1="600.0" x2="900.0" y2="213.6"/>
<line x1="60.0" y1="612.1" x2="900.0" y2="225.7"/>
<line x1="60.0" y1="624.2" x2="900.0" y2="237.8"/>
<line x1="60.0" y1="636.3" x2="900.0" y2="249.9"/>
<line x1="60.0" y1="648.4" x2="900.0" y2="262.0"/>
<line x1="60.0" y1="660.5" x2="900.0" y2="274.1"/>
<line x1="60.0" y1="672.6" x2="900.0" y2="286.2"/>
<line x1="60.0" y1="684.7" x2="900.0" y2="298.3"/>
<line x1="60.0" y1="696.8" x2="900.0" y2="310.4"/>
<line x1="60.0" y1="708.9" x2="900.0" y2="322.5"/>
<line x1="60.0" y1="721.0" x2="900.0" y2="334.6"/>
<line x1="60.0" y1="733.1" x2="900.0" y2="346.7"/>
<line x1="60.0" y1="745.3" x2="900.0" y2="358.9"/>
<line x1="60.0" y1="757.4" x2="900.0" y2="371.0"/>
<line x1="60.0" y1="769.5" x2="900.0" y2="383.1"/>
<line x1="60.0" y1="781.6" x2="900.0" y2="395.2"/>
<line x1="60.0" y1="793.7" x2="900.0" y2="407.3"/>
<line x1="60.0" y1="805.8" x2="900.0" y2="419.4"/>
<line x1="60.0" y1="817.9" x2="900.0" y2="431.5"/>
<line x1="60.0" y1="830.0" x2="900.0" y2="443.6"/>
<line x1="60.0" y1="842.1" x2="900.0" y2="455.7"/>
<line x1="60.0" y1="854.2" x2="900.0" y2="467.8"/>
<line x1="60.0" y1="866.3" x2="900.0" y2="479.9"/>
<line x1="60.0" y1="878.4" x2="900.0" y2="492.0"/>
<line x1="60.0" y1="890.5" x2="900.0" y2="504.1"/>
<line x1="60.0" y1="902.7" x2="900.0" y2="516.3"/>
<line x1="60.0" y1="914.8" x2="900.0" y2="528.4"/>
<line x1="60.0" y1="926.9" x2="900.0" y2="540.5"/>
<line x1="60.0" y1="939.0" x2="900.0" y2="552.6"/>
<line x1="60.0" y1="951.1" x2="900.0" y2="564.7"/>
<line x1="60.0" y1="963.2" x2="900.0" y2="576.8"/>
<line x1="60.0" y1="975.3" x2="900.0" y2="588.9"/>
<line x1="60.0" y1="987.4" x2="900.0" y2="601.0"/>
<line x1="60.0" y1="999.5" x2="900.0" y2="613.1"/>
<line x1="60.0" y1="1011.6" x2="900.0" y2="625.2"/>
<line x1="60.0" y1="1023.7" x2="900.0" y2="637.3"/>
<line x1="60.0" y1="1035.8" x2="900.0" y2="649.4"/>
<line x1="60.0" y1="1048.0" x2="900.0" y2="661.6"/>
<line x1="60.0" y1="1060.1" x2="900.0" y2="673.7"/>
<line x1="60.0" y1="1072.2" x2="900.0" y2="685.8"/>
<line x1="60.0" y1="1084.3" x2="900.0" y2="697.9"/>
<line x1="60.0" y1="1096.4" x2="900.0" y2="710.0"/>
<line x1="60.0" y1="1108.5" x2="900.0" y2="722.1"/>
<line x1="60.0" y1="1120.6" x2="900.0" y2="734.2"/>
<line x1="60.0" y1="1132.7" x2="900.0" y2="746.3"/>
<line x1="60.0" y1="1144.8" x2="900.0" y2="758.4"/>
<line x1="60.0" y1="1156.9" x2="900.0" y2="770.5"/>
<line x1="60.0" y1="1169.0" x2="900.0" y2="782.6"/>
<line x1="60.0" y1="1181.1" x2="900.0" y2="794.7"/>
<line x1="60.0" y1="1193.2" x2="900.0" y2="806.8"/>
<line x1="60.0" y1="1205.4" x2="900.0" y2="819.0"/>
<line x1="60.0" y1="1217.5" x2="900.0" y2="831.1"/>
<line x1="60.0" y1="1229.6" x2="900.0" y2="843.2"/>
<line x1="60.0" y1="1241.7" x2="900.0" y2="855.3"/>
<line x1="60.0" y1="1253.8" x2="900.0" y2="867.4"/>
<line x1="60.0" y1="1265.9" x2="900.0" y2="879.5"/>
<line x1="60.0" y1="1278.0" x2="900.0" y2="891.6"/>
<line x1="60.0" y1="-670.6" x2="900.0" y2="-250.6"/>
<line x1="60.0" y1="-655.0" x2="900.0" y2="-235.0"/>
<line x1="60.0" y1="-639.3" x2="900.0" y2="-219.3"/>
<line x1="60.0" y1="-623.7" x2="900.0" y2="-203.7"/>
<line x1="60.0" y1="-608.0" x2="900.0" y2="-188.0"/>
<line x1="60.0" y1="-592.4" x2="900.0" y2="-172.4"/>
<line x1="60.0" y1="-576.7" x2="900.0" y2="-156.7"/>
<line x1="60.0" y1="-561.1" x2="900.0" y2="-141.1"/>
<line x1="60.0" y1="-545.4" x2="900.0" y2="-125.4"/>
<line x1="60.0" y1="-529.8" x2="900.0" y2="-109.8"/>
<line x1="60.0" y1="-514.1" x2="900.0" y2="-94.1"/>
<line x1="60.0" y1="-498.4" x2="900.0" y2="-78.4"/>
<line x1="60.0" y1="-482.8" x2="900.0" y2="-62.8"/>
<line x1="60.0" y1="-467.1" x2="900.0" y2="-47.1"/>
<line x1="60.0" y1="-451.5" x2="900.0" y2="-31.5"/>
<line x1="60.0" y1="-435.8" x2="900.0" y2="-15.8"/>
<line x1="60.0" y1="-420.2" x2="900.0" y2="-0.2"/>
<line x1="60.0" y1="-404.5" x2="900.0" y2="15.5"/>
<line x1="60.0" y1="-388.9" x2="900.0" y2="31.1"/>
<line x1="60.0" y1="-373.2" x2="900.0" y2="46.8"/>
<line x1="60.0" y1="-357.6" x2="900.0" y2="62.4"/>
<line x1="60.0" y1="-341.9" x2="900.0" y2="78.1"/>
<line x1="60.0" y1="-326.3" x2="900.0" y2="93.7"/>
<line x1="60.0" y1="-310.6" x2="900.0" y2="109.4"/>
<line x1="60.0" y1="-295.0" x2="900.0" y2="125.0"/>
<line x1="60.0" y1="-279.3" x2="900.0" y2="140.7"/>
<line x1="60.0" y1="-263.7" x2="900.0" y2="156.3"/>
<line x1="60.0" y1="-248.0" x2="900.0" y2="172.0"/>
<line x1="60.0" y1="-232.4" x2="900.0" y2="187.6"/>
<line x1="60.0" y1="-216.7" x2="900.0" y2="203.3"/>
<line x1="60.0" y1="-201.0" x2="900.0" y2="219.0"/>
<line x1="60.0" y1="-185.4" x2="900.0" y2="234.6"/>
<line x1="60.0" y1="-169.7" x2="900.0" y2="250.3"/>
<line x1="60.0" y1="-154.1" x2="900.0" y2="265.9"/>
<line x1="60.0" y1="-138.4" x2="900.0" y2="281.6"/>
<line x1="60.0" y1="-122.8" x2="900.0" y2="297.2"/>
<line x1="60.0" y1="-107.1" x2="900.0" y2="312.9"/>
<line x1="60.0" y1="-91.5" x2="900.0" y2="328.5"/>
<line x1="60.0" y1="-75.8" x2="900.0" y2="344.2"/>
<line x1="60.0" y1="-60.2" x2="900.0" y2="359.8"/>
<line x1="60.0" y1="-44.5" x2="900.0" y2="375.5"/>
<line x1="60.0" y1="-28.9" x2="900.0" y2="391.1"/>
<line x1="60.0" y1="-13.2" x2="900.0" y2="406.8"/>
<line x1="60.0" y1="2.4" x2="900.0" y2="422.4"/>
<line x1="60.0" y1="18.1" x2="900.0" y2="438.1"/>
<line x1="60.0" y1="33.7" x2="900.0" y2="453.7"/>
<line x1="60.0" y1="49.4" x2="900.0" y2="469.4"/>
<line x1="60.0" y1="65.0" x2="900.0" y2="485.0"/>
<line x1="60.0" y1="80.7" x2="900.0" y2="500.7"/>
<line x1="60.0" y1="96.3" x2="900.0" y2="516.3"/>
<line x1="60.0" y1="112.0" x2="900.0" y2="532.0"/>
<line x1="60.0" y1="127.7" x2="900.0" y2="547.7"/>
<line x1="60.0" y1="143.3" x2="900.0" y2="563.3"/>
<line x1="60.0" y1="159.0" x2="900.0" y2="579.0"/>
<line x1="60.0" y1="174.6" x2="900.0" y2="594.6"/>
<line x1="60.0" y1="190.3" x2="900.0" y2="610.3"/>
<line x1="60.0" y1="205.9" x2="900.0" y2="625.9"/>
<line x1="60.0" y1="221.6" x2="900.0" y2="641.6"/>
<line x1="60.0" y1="237.2" x2="900.0" y2="657.2"/>
<line x1="60.0" y1="252.9" x2="900.0" y2="672.9"/>
<line x1="60.0" y1="268.5" x2="900.0" y2="688.5"/>
<line x1="60.0" y1="284.2" x2="900.0" y2="704.2"/>
<line x1="60.0" y1="299.8" x2="900.0" y2="719.8"/>
<line x1="60.0" y1="315.5" x2="900.0" y2="735.5"/>
<line x1="60.0" y1="331.1" x2="900.0" y2="751.1"/>
<line x1="60.0" y1="346.8" x2="900.0" y2="766.8"/>
<line x1="60.0" y1="362.4" x2="900.0" y2="782.4"/>
<line x1="60.0" y1="378.1" x2="900.0" y2="798.1"/>
<line x1="60.0" y1="393.7" x2="900.0" y2="813.7"/>
<line x1="60.0" y1="409.4" x2="900.0" y2="829.4"/>
<line x1="60.0" y1="425.0" x2="900.0" y2="845.0"/>
<line x1="60.0" y1="440.7" x2="900.0" y2="860.7"/>
<line x1="60.0" y1="456.4" x2="900.0" y2="876.4"/>
<line x1="60.0" y1="472.0" x2="900.0" y2="892.0"/>
<line x1="60.0" y1="487.7" x2="900.0" y2="907.7"/>
<line x1="60.0" y1="503.3" x2="900.0" y2="923.3"/>
<line x1="60.0" y1="519.0" x2="900.0" y2="939.0"/>
<line x1="60.0" y1="534.6" x2="900.0" y2="954.6"/>
<line x1="60.0" y1="550.3" x2="900.0" y2="970.3"/>
<line x1="60.0" y1="565.9" x2="900.0" y2="985.9"/>
<line x1="60.0" y1="581.6" x2="900.0" y2="1001.6"/>
<line x1="60.0" y1="597.2" x2="900.0" y2="1017.2"/>
<line x1="60.0" y1="612.9" x2="900.0" y2="1032.9"/>
<line x1="60.0" y1="628.5" x2="900.0" y2="1048.5"/>
<line x1="60.0" y1="644.2" x2="900.0" y2="1064.2"/>
<line x1="60.0" y1="659.8" x2="900.0" y2="1079.8"/>
<line x1="60.0" y1="675.5" x2="900.0" y2="1095.5"/>
<line x1="60.0" y1="691.1" x2="900.0" y2="1111.1"/>
<line x1="60.0" y1="706.8" x2="900.0" y2="1126.8"/>
<line x1="60.0" y1="722.4" x2="900.0" y2="1142.4"/>
<line x1="60.0" y1="738.1" x2="900.0" y2="1158.1"/>
<line x1="60.0" y1="753.8" x2="900.0" y2="1173.8"/>
<line x1="60.0" y1="769.4" x2="900.0" y2="1189.4"/>
<line x1="60.0" y1="785.1" x2="900.0" y2="1205.1"/>
<line x1="60.0" y1="800.7" x2="900.0" y2="1220.7"/>
<line x1="60.0" y1="816.4" x2="900.0" y2="1236.4"/>
<line x1="60.0" y1="832.0" x2="900.0" y2="1252.0"/>
<line x1="60.0" y1="847.7" x2="900.0" y2="1267.7"/>
<line x1="60.0" y1="863.3" x2="900.0" y2="1283.3"/>
<line x1="60.0" y1="879.0" x2="900.0" y2="1299.0"/>
<line x1="60.0" y1="894.6" x2="900.0" y2="1314.6"/>
</g>
<mask id="mLR" maskUnits="userSpaceOnUse" x="0" y="0" width="960" height="640"><path d="M796.7,403.6 L793.7,408.3 L790.4,412.9 L786.9,417.5 L783.2,422.1 L779.3,426.6 L775.1,431.0 L770.7,435.4 L766.1,439.7 L761.4,444.0 L756.4,448.1 L751.2,452.2 L745.8,456.2 L740.2,460.2 L734.4,464.0 L728.5,467.8 L722.3,471.4 L716.0,475.0 L709.5,478.5 L702.9,481.9 L696.1,485.1 L689.1,488.3 L682.0,491.4 L674.7,494.3 L667.3,497.2 L693.6,528.7 L702.1,525.3 L710.3,521.7 L718.5,518.0 L726.4,514.2 L734.2,510.2 L741.7,506.2 L749.1,502.0 L756.3,497.7 L763.3,493.2 L770.1,488.7 L776.7,484.1 L783.1,479.4 L789.2,474.5 L795.1,469.6 L800.8,464.6 L806.3,459.5 L811.5,454.3 L816.5,449.0 L821.2,443.7 L825.7,438.3 L830.0,432.8 L834.0,427.2 L837.7,421.6 L841.2,415.9Z" fill="#fff" filter="url(#blur4)"/></mask>
<g mask="url(#mLR)" stroke="#b9b5b0" stroke-width="0.9">
<line x1="60.0" y1="-634.0" x2="900.0" y2="-247.6"/>
<line x1="60.0" y1="-621.9" x2="900.0" y2="-235.5"/>
<line x1="60.0" y1="-609.8" x2="900.0" y2="-223.4"/>
<line x1="60.0" y1="-597.7" x2="900.0" y2="-211.3"/>
<line x1="60.0" y1="-585.6" x2="900.0" y2="-199.2"/>
<line x1="60.0" y1="-573.5" x2="900.0" y2="-187.1"/>
<line x1="60.0" y1="-561.4" x2="900.0" y2="-175.0"/>
<line x1="60.0" y1="-549.2" x2="900.0" y2="-162.8"/>
<line x1="60.0" y1="-537.1" x2="900.0" y2="-150.7"/>
<line x1="60.0" y1="-525.0" x2="900.0" y2="-138.6"/>
<line x1="60.0" y1="-512.9" x2="900.0" y2="-126.5"/>
<line x1="60.0" y1="-500.8" x2="900.0" y2="-114.4"/>
<line x1="60.0" y1="-488.7" x2="900.0" y2="-102.3"/>
<line x1="60.0" y1="-476.6" x2="900.0" y2="-90.2"/>
<line x1="60.0" y1="-464.5" x2="900.0" y2="-78.1"/>
<line x1="60.0" y1="-452.4" x2="900.0" y2="-66.0"/>
<line x1="60.0" y1="-440.3" x2="900.0" y2="-53.9"/>
<line x1="60.0" y1="-428.2" x2="900.0" y2="-41.8"/>
<line x1="60.0" y1="-416.1" x2="900.0" y2="-29.7"/>
<line x1="60.0" y1="-404.0" x2="900.0" y2="-17.6"/>
<line x1="60.0" y1="-391.8" x2="900.0" y2="-5.4"/>
<line x1="60.0" y1="-379.7" x2="900.0" y2="6.7"/>
<line x1="60.0" y1="-367.6" x2="900.0" y2="18.8"/>
<line x1="60.0" y1="-355.5" x2="900.0" y2="30.9"/>
<line x1="60.0" y1="-343.4" x2="900.0" y2="43.0"/>
<line x1="60.0" y1="-331.3" x2="900.0" y2="55.1"/>
<line x1="60.0" y1="-319.2" x2="900.0" y2="67.2"/>
<line x1="60.0" y1="-307.1" x2="900.0" y2="79.3"/>
<line x1="60.0" y1="-295.0" x2="900.0" y2="91.4"/>
<line x1="60.0" y1="-282.9" x2="900.0" y2="103.5"/>
<line x1="60.0" y1="-270.8" x2="900.0" y2="115.6"/>
<line x1="60.0" y1="-258.7" x2="900.0" y2="127.7"/>
<line x1="60.0" y1="-246.5" x2="900.0" y2="139.9"/>
<line x1="60.0" y1="-234.4" x2="900.0" y2="152.0"/>
<line x1="60.0" y1="-222.3" x2="900.0" y2="164.1"/>
<line x1="60.0" y1="-210.2" x2="900.0" y2="176.2"/>
<line x1="60.0" y1="-198.1" x2="900.0" y2="188.3"/>
<line x1="60.0" y1="-186.0" x2="900.0" y2="200.4"/>
<line x1="60.0" y1="-173.9" x2="900.0" y2="212.5"/>
<line x1="60.0" y1="-161.8" x2="900.0" y2="224.6"/>
<line x1="60.0" y1="-149.7" x2="900.0" y2="236.7"/>
<line x1="60.0" y1="-137.6" x2="900.0" y2="248.8"/>
<line x1="60.0" y1="-125.5" x2="900.0" y2="260.9"/>
<line x1="60.0" y1="-113.4" x2="900.0" y2="273.0"/>
<line x1="60.0" y1="-101.3" x2="900.0" y2="285.1"/>
<line x1="60.0" y1="-89.1" x2="900.0" y2="297.3"/>
<line x1="60.0" y1="-77.0" x2="900.0" y2="309.4"/>
<line x1="60.0" y1="-64.9" x2="900.0" y2="321.5"/>
<line x1="60.0" y1="-52.8" x2="900.0" y2="333.6"/>
<line x1="60.0" y1="-40.7" x2="900.0" y2="345.7"/>
<line x1="60.0" y1="-28.6" x2="900.0" y2="357.8"/>
<line x1="60.0" y1="-16.5" x2="900.0" y2="369.9"/>
<line x1="60.0" y1="-4.4" x2="900.0" y2="382.0"/>
<line x1="60.0" y1="7.7" x2="900.0" y2="394.1"/>
<line x1="60.0" y1="19.8" x2="900.0" y2="406.2"/>
<line x1="60.0" y1="31.9" x2="900.0" y2="418.3"/>
<line x1="60.0" y1="44.0" x2="900.0" y2="430.4"/>
<line x1="60.0" y1="56.2" x2="900.0" y2="442.6"/>
<line x1="60.0" y1="68.3" x2="900.0" y2="454.7"/>
<line x1="60.0" y1="80.4" x2="900.0" y2="466.8"/>
<line x1="60.0" y1="92.5" x2="900.0" y2="478.9"/>
<line x1="60.0" y1="104.6" x2="900.0" y2="491.0"/>
<line x1="60.0" y1="116.7" x2="900.0" y2="503.1"/>
<line x1="60.0" y1="128.8" x2="900.0" y2="515.2"/>
<line x1="60.0" y1="140.9" x2="900.0" y2="527.3"/>
<line x1="60.0" y1="153.0" x2="900.0" y2="539.4"/>
<line x1="60.0" y1="165.1" x2="900.0" y2="551.5"/>
<line x1="60.0" y1="177.2" x2="900.0" y2="563.6"/>
<line x1="60.0" y1="189.3" x2="900.0" y2="575.7"/>
<line x1="60.0" y1="201.4" x2="900.0" y2="587.8"/>
<line x1="60.0" y1="213.6" x2="900.0" y2="600.0"/>
<line x1="60.0" y1="225.7" x2="900.0" y2="612.1"/>
<line x1="60.0" y1="237.8" x2="900.0" y2="624.2"/>
<line x1="60.0" y1="249.9" x2="900.0" y2="636.3"/>
<line x1="60.0" y1="262.0" x2="900.0" y2="648.4"/>
<line x1="60.0" y1="274.1" x2="900.0" y2="660.5"/>
<line x1="60.0" y1="286.2" x2="900.0" y2="672.6"/>
<line x1="60.0" y1="298.3" x2="900.0" y2="684.7"/>
<line x1="60.0" y1="310.4" x2="900.0" y2="696.8"/>
<line x1="60.0" y1="322.5" x2="900.0" y2="708.9"/>
<line x1="60.0" y1="334.6" x2="900.0" y2="721.0"/>
<line x1="60.0" y1="346.7" x2="900.0" y2="733.1"/>
<line x1="60.0" y1="358.9" x2="900.0" y2="745.3"/>
<line x1="60.0" y1="371.0" x2="900.0" y2="757.4"/>
<line x1="60.0" y1="383.1" x2="900.0" y2="769.5"/>
<line x1="60.0" y1="395.2" x2="900.0" y2="781.6"/>
<line x1="60.0" y1="407.3" x2="900.0" y2="793.7"/>
<line x1="60.0" y1="419.4" x2="900.0" y2="805.8"/>
<line x1="60.0" y1="431.5" x2="900.0" y2="817.9"/>
<line x1="60.0" y1="443.6" x2="900.0" y2="830.0"/>
<line x1="60.0" y1="455.7" x2="900.0" y2="842.1"/>
<line x1="60.0" y1="467.8" x2="900.0" y2="854.2"/>
<line x1="60.0" y1="479.9" x2="900.0" y2="866.3"/>
<line x1="60.0" y1="492.0" x2="900.0" y2="878.4"/>
<line x1="60.0" y1="504.1" x2="900.0" y2="890.5"/>
<line x1="60.0" y1="516.3" x2="900.0" y2="902.7"/>
<line x1="60.0" y1="528.4" x2="900.0" y2="914.8"/>
<line x1="60.0" y1="540.5" x2="900.0" y2="926.9"/>
<line x1="60.0" y1="552.6" x2="900.0" y2="939.0"/>
<line x1="60.0" y1="564.7" x2="900.0" y2="951.1"/>
<line x1="60.0" y1="576.8" x2="900.0" y2="963.2"/>
<line x1="60.0" y1="588.9" x2="900.0" y2="975.3"/>
<line x1="60.0" y1="601.0" x2="900.0" y2="987.4"/>
<line x1="60.0" y1="613.1" x2="900.0" y2="999.5"/>
<line x1="60.0" y1="625.2" x2="900.0" y2="1011.6"/>
<line x1="60.0" y1="637.3" x2="900.0" y2="1023.7"/>
<line x1="60.0" y1="649.4" x2="900.0" y2="1035.8"/>
<line x1="60.0" y1="661.6" x2="900.0" y2="1048.0"/>
<line x1="60.0" y1="673.7" x2="900.0" y2="1060.1"/>
<line x1="60.0" y1="685.8" x2="900.0" y2="1072.2"/>
<line x1="60.0" y1="697.9" x2="900.0" y2="1084.3"/>
<line x1="60.0" y1="710.0" x2="900.0" y2="1096.4"/>
<line x1="60.0" y1="722.1" x2="900.0" y2="1108.5"/>
<line x1="60.0" y1="734.2" x2="900.0" y2="1120.6"/>
<line x1="60.0" y1="746.3" x2="900.0" y2="1132.7"/>
<line x1="60.0" y1="758.4" x2="900.0" y2="1144.8"/>
<line x1="60.0" y1="770.5" x2="900.0" y2="1156.9"/>
<line x1="60.0" y1="782.6" x2="900.0" y2="1169.0"/>
<line x1="60.0" y1="794.7" x2="900.0" y2="1181.1"/>
<line x1="60.0" y1="806.8" x2="900.0" y2="1193.2"/>
<line x1="60.0" y1="819.0" x2="900.0" y2="1205.4"/>
<line x1="60.0" y1="831.1" x2="900.0" y2="1217.5"/>
<line x1="60.0" y1="843.2" x2="900.0" y2="1229.6"/>
<line x1="60.0" y1="855.3" x2="900.0" y2="1241.7"/>
<line x1="60.0" y1="867.4" x2="900.0" y2="1253.8"/>
<line x1="60.0" y1="879.5" x2="900.0" y2="1265.9"/>
<line x1="60.0" y1="891.6" x2="900.0" y2="1278.0"/>
<line x1="60.0" y1="-250.6" x2="900.0" y2="-670.6"/>
<line x1="60.0" y1="-235.0" x2="900.0" y2="-655.0"/>
<line x1="60.0" y1="-219.3" x2="900.0" y2="-639.3"/>
<line x1="60.0" y1="-203.7" x2="900.0" y2="-623.7"/>
<line x1="60.0" y1="-188.0" x2="900.0" y2="-608.0"/>
<line x1="60.0" y1="-172.4" x2="900.0" y2="-592.4"/>
<line x1="60.0" y1="-156.7" x2="900.0" y2="-576.7"/>
<line x1="60.0" y1="-141.1" x2="900.0" y2="-561.1"/>
<line x1="60.0" y1="-125.4" x2="900.0" y2="-545.4"/>
<line x1="60.0" y1="-109.8" x2="900.0" y2="-529.8"/>
<line x1="60.0" y1="-94.1" x2="900.0" y2="-514.1"/>
<line x1="60.0" y1="-78.4" x2="900.0" y2="-498.4"/>
<line x1="60.0" y1="-62.8" x2="900.0" y2="-482.8"/>
<line x1="60.0" y1="-47.1" x2="900.0" y2="-467.1"/>
<line x1="60.0" y1="-31.5" x2="900.0" y2="-451.5"/>
<line x1="60.0" y1="-15.8" x2="900.0" y2="-435.8"/>
<line x1="60.0" y1="-0.2" x2="900.0" y2="-420.2"/>
<line x1="60.0" y1="15.5" x2="900.0" y2="-404.5"/>
<line x1="60.0" y1="31.1" x2="900.0" y2="-388.9"/>
<line x1="60.0" y1="46.8" x2="900.0" y2="-373.2"/>
<line x1="60.0" y1="62.4" x2="900.0" y2="-357.6"/>
<line x1="60.0" y1="78.1" x2="900.0" y2="-341.9"/>
<line x1="60.0" y1="93.7" x2="900.0" y2="-326.3"/>
<line x1="60.0" y1="109.4" x2="900.0" y2="-310.6"/>
<line x1="60.0" y1="125.0" x2="900.0" y2="-295.0"/>
<line x1="60.0" y1="140.7" x2="900.0" y2="-279.3"/>
<line x1="60.0" y1="156.3" x2="900.0" y2="-263.7"/>
<line x1="60.0" y1="172.0" x2="900.0" y2="-248.0"/>
<line x1="60.0" y1="187.6" x2="900.0" y2="-232.4"/>
<line x1="60.0" y1="203.3" x2="900.0" y2="-216.7"/>
<line x1="60.0" y1="219.0" x2="900.0" y2="-201.0"/>
<line x1="60.0" y1="234.6" x2="900.0" y2="-185.4"/>
<line x1="60.0" y1="250.3" x2="900.0" y2="-169.7"/>
<line x1="60.0" y1="265.9" x2="900.0" y2="-154.1"/>
<line x1="60.0" y1="281.6" x2="900.0" y2="-138.4"/>
<line x1="60.0" y1="297.2" x2="900.0" y2="-122.8"/>
<line x1="60.0" y1="312.9" x2="900.0" y2="-107.1"/>
<line x1="60.0" y1="328.5" x2="900.0" y2="-91.5"/>
<line x1="60.0" y1="344.2" x2="900.0" y2="-75.8"/>
<line x1="60.0" y1="359.8" x2="900.0" y2="-60.2"/>
<line x1="60.0" y1="375.5" x2="900.0" y2="-44.5"/>
<line x1="60.0" y1="391.1" x2="900.0" y2="-28.9"/>
<line x1="60.0" y1="406.8" x2="900.0" y2="-13.2"/>
<line x1="60.0" y1="422.4" x2="900.0" y2="2.4"/>
<line x1="60.0" y1="438.1" x2="900.0" y2="18.1"/>
<line x1="60.0" y1="453.7" x2="900.0" y2="33.7"/>
<line x1="60.0" y1="469.4" x2="900.0" y2="49.4"/>
<line x1="60.0" y1="485.0" x2="900.0" y2="65.0"/>
<line x1="60.0" y1="500.7" x2="900.0" y2="80.7"/>
<line x1="60.0" y1="516.3" x2="900.0" y2="96.3"/>
<line x1="60.0" y1="532.0" x2="900.0" y2="112.0"/>
<line x1="60.0" y1="547.7" x2="900.0" y2="127.7"/>
<line x1="60.0" y1="563.3" x2="900.0" y2="143.3"/>
<line x1="60.0" y1="579.0" x2="900.0" y2="159.0"/>
<line x1="60.0" y1="594.6" x2="900.0" y2="174.6"/>
<line x1="60.0" y1="610.3" x2="900.0" y2="190.3"/>
<line x1="60.0" y1="625.9" x2="900.0" y2="205.9"/>
<line x1="60.0" y1="641.6" x2="900.0" y2="221.6"/>
<line x1="60.0" y1="657.2" x2="900.0" y2="237.2"/>
<line x1="60.0" y1="672.9" x2="900.0" y2="252.9"/>
<line x1="60.0" y1="688.5" x2="900.0" y2="268.5"/>
<line x1="60.0" y1="704.2" x2="900.0" y2="284.2"/>
<line x1="60.0" y1="719.8" x2="900.0" y2="299.8"/>
<line x1="60.0" y1="735.5" x2="900.0" y2="315.5"/>
<line x1="60.0" y1="751.1" x2="900.0" y2="331.1"/>
<line x1="60.0" y1="766.8" x2="900.0" y2="346.8"/>
<line x1="60.0" y1="782.4" x2="900.0" y2="362.4"/>
<line x1="60.0" y1="798.1" x2="900.0" y2="378.1"/>
<line x1="60.0" y1="813.7" x2="900.0" y2="393.7"/>
<line x1="60.0" y1="829.4" x2="900.0" y2="409.4"/>
<line x1="60.0" y1="845.0" x2="900.0" y2="425.0"/>
<line x1="60.0" y1="860.7" x2="900.0" y2="440.7"/>
<line x1="60.0" y1="876.4" x2="900.0" y2="456.4"/>
<line x1="60.0" y1="892.0" x2="900.0" y2="472.0"/>
<line x1="60.0" y1="907.7" x2="900.0" y2="487.7"/>
<line x1="60.0" y1="923.3" x2="900.0" y2="503.3"/>
<line x1="60.0" y1="939.0" x2="900.0" y2="519.0"/>
<line x1="60.0" y1="954.6" x2="900.0" y2="534.6"/>
<line x1="60.0" y1="970.3" x2="900.0" y2="550.3"/>
<line x1="60.0" y1="985.9" x2="900.0" y2="565.9"/>
<line x1="60.0" y1="1001.6" x2="900.0" y2="581.6"/>
<line x1="60.0" y1="1017.2" x2="900.0" y2="597.2"/>
<line x1="60.0" y1="1032.9" x2="900.0" y2="612.9"/>
<line x1="60.0" y1="1048.5" x2="900.0" y2="628.5"/>
<line x1="60.0" y1="1064.2" x2="900.0" y2="644.2"/>
<line x1="60.0" y1="1079.8" x2="900.0" y2="659.8"/>
<line x1="60.0" y1="1095.5" x2="900.0" y2="675.5"/>
<line x1="60.0" y1="1111.1" x2="900.0" y2="691.1"/>
<line x1="60.0" y1="1126.8" x2="900.0" y2="706.8"/>
<line x1="60.0" y1="1142.4" x2="900.0" y2="722.4"/>
<line x1="60.0" y1="1158.1" x2="900.0" y2="738.1"/>
<line x1="60.0" y1="1173.8" x2="900.0" y2="753.8"/>
<line x1="60.0" y1="1189.4" x2="900.0" y2="769.4"/>
<line x1="60.0" y1="1205.1" x2="900.0" y2="785.1"/>
<line x1="60.0" y1="1220.7" x2="900.0" y2="800.7"/>
<line x1="60.0" y1="1236.4" x2="900.0" y2="816.4"/>
<line x1="60.0" y1="1252.0" x2="900.0" y2="832.0"/>
<line x1="60.0" y1="1267.7" x2="900.0" y2="847.7"/>
<line x1="60.0" y1="1283.3" x2="900.0" y2="863.3"/>
<line x1="60.0" y1="1299.0" x2="900.0" y2="879.0"/>
<line x1="60.0" y1="1314.6" x2="900.0" y2="894.6"/>
</g>
<line x1="480" y1="322" x2="797.0" y2="337.0" stroke="#c8c5c1" stroke-width="0.8"/>
<line x1="480" y1="322" x2="786.2" y2="381.3" stroke="#c8c5c1" stroke-width="0.8"/>
<line x1="480" y1="322" x2="754.5" y2="422.5" stroke="#c8c5c1" stroke-width="0.8"/>
<line x1="480" y1="322" x2="704.2" y2="457.9" stroke="#c8c5c1" stroke-width="0.8"/>
<line x1="480" y1="322" x2="638.5" y2="485.1" stroke="#c8c5c1" stroke-width="0.8"/>
<line x1="480" y1="322" x2="562.0" y2="502.2" stroke="#c8c5c1" stroke-width="0.8"/>
<line x1="480" y1="322" x2="480.0" y2="508.0" stroke="#c8c5c1" stroke-width="0.8"/>
<line x1="480" y1="322" x2="398.0" y2="502.2" stroke="#c8c5c1" stroke-width="0.8"/>
<line x1="480" y1="322" x2="321.5" y2="485.1" stroke="#c8c5c1" stroke-width="0.8"/>
<line x1="480" y1="322" x2="255.8" y2="457.9" stroke="#c8c5c1" stroke-width="0.8"/>
<line x1="480" y1="322" x2="205.5" y2="422.5" stroke="#c8c5c1" stroke-width="0.8"/>
<line x1="480" y1="322" x2="173.8" y2="381.3" stroke="#c8c5c1" stroke-width="0.8"/>
<line x1="480" y1="322" x2="163.0" y2="337.0" stroke="#c8c5c1" stroke-width="0.8"/>
<line x1="480" y1="322" x2="173.8" y2="292.7" stroke="#c8c5c1" stroke-width="0.8"/>
<line x1="480" y1="322" x2="205.5" y2="251.5" stroke="#c8c5c1" stroke-width="0.8"/>
<line x1="480" y1="322" x2="255.8" y2="216.1" stroke="#c8c5c1" stroke-width="0.8"/>
<line x1="480" y1="322" x2="321.5" y2="188.9" stroke="#c8c5c1" stroke-width="0.8"/>
<line x1="480" y1="322" x2="398.0" y2="171.8" stroke="#c8c5c1" stroke-width="0.8"/>
<line x1="480" y1="322" x2="480.0" y2="166.0" stroke="#c8c5c1" stroke-width="0.8"/>
<line x1="480" y1="322" x2="562.0" y2="171.8" stroke="#c8c5c1" stroke-width="0.8"/>
<line x1="480" y1="322" x2="638.5" y2="188.9" stroke="#c8c5c1" stroke-width="0.8"/>
<line x1="480" y1="322" x2="704.2" y2="216.1" stroke="#c8c5c1" stroke-width="0.8"/>
<line x1="480" y1="322" x2="754.5" y2="251.5" stroke="#c8c5c1" stroke-width="0.8"/>
<line x1="480" y1="322" x2="786.2" y2="292.7" stroke="#c8c5c1" stroke-width="0.8"/>
<ellipse cx="480" cy="343.5" rx="344.5" ry="192.6" fill="none" stroke="url(#gD)" stroke-width="1.4"/>
<ellipse cx="480" cy="342.2" rx="336.5" ry="185.5" fill="none" stroke="url(#gM)" stroke-width="1.1"/>
<ellipse cx="480" cy="340.8" rx="331" ry="178" fill="none" stroke="#8c929a" stroke-width="0.9"/>
<ellipse cx="480" cy="339" rx="321" ry="175" fill="none" stroke="#c0bfbd" stroke-width="0.8"/>
<ellipse cx="480" cy="337.2" rx="317.5" ry="171.7" fill="none" stroke="url(#gD2)" stroke-width="1.2"/>
<ellipse cx="480" cy="337" rx="306" ry="161" fill="none" stroke="#b3b3b3" stroke-width="0.9"/>
<ellipse cx="480" cy="331" rx="267" ry="140.5263157894737" fill="none" stroke="#c4c1bd" stroke-width="0.9"/>
<ellipse cx="480" cy="333" rx="270" ry="146.5263157894737" fill="none" stroke="#d0cdc9" stroke-width="0.8"/>
<ellipse cx="480" cy="331" rx="231" ry="121.57894736842105" fill="none" stroke="#c4c1bd" stroke-width="0.9"/>
<ellipse cx="480" cy="333" rx="234" ry="127.57894736842105" fill="none" stroke="#d0cdc9" stroke-width="0.8"/>
<ellipse cx="480" cy="331" rx="196" ry="103.15789473684211" fill="none" stroke="#c4c1bd" stroke-width="0.9"/>
<ellipse cx="480" cy="333" rx="199" ry="109.15789473684211" fill="none" stroke="#d0cdc9" stroke-width="0.8"/>
<ellipse cx="480" cy="331" rx="160" ry="84.21052631578948" fill="none" stroke="#c4c1bd" stroke-width="0.9"/>
<ellipse cx="480" cy="333" rx="163" ry="90.21052631578948" fill="none" stroke="#d0cdc9" stroke-width="0.8"/>
<ellipse cx="480" cy="331" rx="123" ry="64.73684210526316" fill="none" stroke="#c4c1bd" stroke-width="0.9"/>
<ellipse cx="480" cy="333" rx="126" ry="70.73684210526316" fill="none" stroke="#d0cdc9" stroke-width="0.8"/>
<ellipse cx="480" cy="322" rx="57" ry="28" fill="none" stroke="#b9b6b3" stroke-width="0.8"/>
<ellipse cx="479.8" cy="326" rx="94" ry="56" fill="#a65e75"/>
<ellipse cx="480" cy="325" rx="90.5" ry="49" fill="#843856"/>
<ellipse cx="480" cy="322" rx="58" ry="28" fill="none" stroke="#5e2540" stroke-width="0.8"/>
<ellipse cx="480" cy="323" rx="75" ry="40" fill="none" stroke="#6a2b47" stroke-width="0.6"/>
<defs><clipPath id="mel"><ellipse cx="479.8" cy="326" rx="94" ry="56"/></clipPath></defs>
<g clip-path="url(#mel)" stroke="#4e2036" stroke-width="0.8" opacity="0.5">
<line x1="480" y1="322" x2="598.8" y2="331.7"/>
<line x1="480" y1="322" x2="591.3" y2="348.2"/>
<line x1="480" y1="322" x2="560.3" y2="374.0"/>
<line x1="480" y1="322" x2="534.5" y2="384.4"/>
<line x1="480" y1="322" x2="504.9" y2="390.5"/>
<line x1="480" y1="322" x2="463.3" y2="391.3"/>
<line x1="480" y1="322" x2="425.5" y2="384.4"/>
<line x1="480" y1="322" x2="390.8" y2="368.8"/>
<line x1="480" y1="322" x2="368.7" y2="348.2"/>
<line x1="480" y1="322" x2="361.2" y2="331.7"/>
<line x1="480" y1="322" x2="364.6" y2="302.7"/>
<line x1="480" y1="322" x2="380.5" y2="282.9"/>
<line x1="480" y1="322" x2="406.1" y2="266.8"/>
<line x1="480" y1="322" x2="433.1" y2="257.6"/>
<line x1="480" y1="322" x2="463.3" y2="252.7"/>
<line x1="480" y1="322" x2="507.0" y2="253.8"/>
<line x1="480" y1="322" x2="540.0" y2="261.4"/>
<line x1="480" y1="322" x2="569.2" y2="275.2"/>
<line x1="480" y1="322" x2="589.6" y2="293.5"/>
<line x1="480" y1="322" x2="598.8" y2="312.3"/>
</g>
<line x1="119" y1="322" x2="840" y2="322" stroke="#33445c" stroke-width="1.3"/>
<line x1="480" y1="142" x2="480" y2="550" stroke="#33445c" stroke-width="1.6"/>
<line x1="480" y1="322" x2="407.6" y2="190.4" stroke="#7a3f44" stroke-width="1.05"/>
<line x1="480" y1="322" x2="392.6" y2="217.0" stroke="#7a3f44" stroke-width="1.05"/>
<line x1="480" y1="322" x2="371.0" y2="247.1" stroke="#7a3f44" stroke-width="1.05"/>
<line x1="480" y1="322" x2="365.0" y2="286.0" stroke="#3a4455" stroke-width="1.05"/>
<line x1="480" y1="322" x2="358.7" y2="336.3" stroke="#7a3f44" stroke-width="1.05"/>
<line x1="480" y1="322" x2="366.3" y2="358.8" stroke="#7a3f44" stroke-width="1.05"/>
<line x1="480" y1="322" x2="382.1" y2="380.5" stroke="#3a4455" stroke-width="1.05"/>
<line x1="480" y1="322" x2="399.0" y2="403.0" stroke="#7a3f44" stroke-width="1.05"/>
<line x1="480" y1="322" x2="419.3" y2="444.5" stroke="#3a4455" stroke-width="1.05"/>
<line x1="480" y1="322" x2="551.25" y2="190.5" stroke="#7a3f44" stroke-width="1.05"/>
<line x1="480" y1="322" x2="567.5" y2="216.75" stroke="#7a3f44" stroke-width="1.05"/>
<line x1="480" y1="322" x2="589.25" y2="244.5" stroke="#7a3f44" stroke-width="1.05"/>
<line x1="480" y1="322" x2="604.0" y2="271.0" stroke="#3a4455" stroke-width="1.05"/>
<line x1="480" y1="322" x2="622.0" y2="295.0" stroke="#3a4455" stroke-width="1.05"/>
<line x1="480" y1="322" x2="594.6" y2="350.9" stroke="#3a4455" stroke-width="1.05"/>
<line x1="480" y1="322" x2="585.4" y2="372.6" stroke="#3a4455" stroke-width="1.05"/>
<line x1="480" y1="322" x2="583.5" y2="394.9" stroke="#3a4455" stroke-width="1.05"/>
<line x1="480" y1="322" x2="557.6" y2="415.7" stroke="#3a4455" stroke-width="1.05"/>
<line x1="480" y1="322" x2="549.6" y2="419.6" stroke="#3a4455" stroke-width="1.05"/>
<line x1="480" y1="322" x2="543.2" y2="446.0" stroke="#3a4455" stroke-width="1.05"/>
<g clip-path="url(#mel)">
<line x1="480" y1="322" x2="407.6" y2="190.4" stroke="#532640" stroke-width="1.05"/>
<line x1="480" y1="322" x2="392.6" y2="217.0" stroke="#532640" stroke-width="1.05"/>
<line x1="480" y1="322" x2="371.0" y2="247.1" stroke="#532640" stroke-width="1.05"/>
<line x1="480" y1="322" x2="365.0" y2="286.0" stroke="#532640" stroke-width="1.05"/>
<line x1="480" y1="322" x2="358.7" y2="336.3" stroke="#532640" stroke-width="1.05"/>
<line x1="480" y1="322" x2="366.3" y2="358.8" stroke="#532640" stroke-width="1.05"/>
<line x1="480" y1="322" x2="382.1" y2="380.5" stroke="#532640" stroke-width="1.05"/>
<line x1="480" y1="322" x2="399.0" y2="403.0" stroke="#532640" stroke-width="1.05"/>
<line x1="480" y1="322" x2="419.3" y2="444.5" stroke="#532640" stroke-width="1.05"/>
<line x1="480" y1="322" x2="551.25" y2="190.5" stroke="#532640" stroke-width="1.05"/>
<line x1="480" y1="322" x2="567.5" y2="216.75" stroke="#532640" stroke-width="1.05"/>
<line x1="480" y1="322" x2="589.25" y2="244.5" stroke="#532640" stroke-width="1.05"/>
<line x1="480" y1="322" x2="604.0" y2="271.0" stroke="#532640" stroke-width="1.05"/>
<line x1="480" y1="322" x2="622.0" y2="295.0" stroke="#532640" stroke-width="1.05"/>
<line x1="480" y1="322" x2="594.6" y2="350.9" stroke="#532640" stroke-width="1.05"/>
<line x1="480" y1="322" x2="585.4" y2="372.6" stroke="#532640" stroke-width="1.05"/>
<line x1="480" y1="322" x2="583.5" y2="394.9" stroke="#532640" stroke-width="1.05"/>
<line x1="480" y1="322" x2="557.6" y2="415.7" stroke="#532640" stroke-width="1.05"/>
<line x1="480" y1="322" x2="549.6" y2="419.6" stroke="#532640" stroke-width="1.05"/>
<line x1="480" y1="322" x2="543.2" y2="446.0" stroke="#532640" stroke-width="1.05"/>
<line x1="119" y1="322" x2="840" y2="322" stroke="#3e1f33" stroke-width="1.3"/>
<line x1="480" y1="142" x2="480" y2="550" stroke="#3e1f33" stroke-width="1.5"/>
</g>
<ellipse cx="480" cy="322" rx="4.5" ry="3.5" fill="#3f1a2c" opacity="0.9"/>
<circle cx="407.6" cy="190.4" r="8.2" fill="#d86b47" stroke="#7d3a2b" stroke-width="1.3"/>
<text x="291.30" y="195.7" font-size="14" fill="#222224" stroke="#222224" stroke-width="0.3" textLength="101.50" lengthAdjust="spacingAndGlyphs">Problem-solving</text>
<circle cx="392.6" cy="217.0" r="8.2" fill="#d86b47" stroke="#7d3a2b" stroke-width="1.3"/>
<text x="321.90" y="222.6" font-size="14" fill="#222224" stroke="#222224" stroke-width="0.3" textLength="56.17" lengthAdjust="spacingAndGlyphs">Creativity</text>
<circle cx="371.0" cy="247.1" r="8.2" fill="#d86b47" stroke="#7d3a2b" stroke-width="1.3"/>
<text x="265.30" y="253.6" font-size="14" fill="#222224" stroke="#222224" stroke-width="0.3" textLength="90.29" lengthAdjust="spacingAndGlyphs">Analytical skills</text>
<rect x="357.0" y="278.3" width="16" height="15.4" fill="#6a8cad" stroke="#34485c" stroke-width="1.2"/>
<text x="235.10" y="292.5" font-size="14" fill="#222224" stroke="#222224" stroke-width="0.3" textLength="115.53" lengthAdjust="spacingAndGlyphs">Data analysis skills</text>
<circle cx="358.7" cy="336.3" r="8.2" fill="#d86b47" stroke="#7d3a2b" stroke-width="1.3"/>
<text x="208.90" y="342.1" font-size="14" fill="#222224" stroke="#222224" stroke-width="0.3" textLength="135.83" lengthAdjust="spacingAndGlyphs">Communication skills</text>
<circle cx="366.3" cy="358.8" r="8.2" fill="#d86b47" stroke="#7d3a2b" stroke-width="1.3"/>
<text x="255.00" y="364.4" font-size="14" fill="#222224" stroke="#222224" stroke-width="0.3" textLength="97.52" lengthAdjust="spacingAndGlyphs">Teamwork skills</text>
<circle cx="382.1" cy="380.5" r="8.2" fill="#d86b47" stroke="#7d3a2b" stroke-width="1.3"/>
<text x="251.40" y="386.6" font-size="14" fill="#222224" stroke="#222224" stroke-width="0.3" textLength="117.52" lengthAdjust="spacingAndGlyphs">Interpersonal skills</text>
<circle cx="399.0" cy="403.0" r="8.2" fill="#d86b47" stroke="#7d3a2b" stroke-width="1.3"/>
<text x="281.60" y="409.6" font-size="14" fill="#222224" stroke="#222224" stroke-width="0.3" textLength="103.27" lengthAdjust="spacingAndGlyphs">Leadership skills</text>
<rect x="403.2" y="421.6" width="16" height="15.4" fill="#6a8cad" stroke="#34485c" stroke-width="1.2"/>
<text x="274.30" y="435.5" font-size="14" fill="#222224" stroke="#222224" stroke-width="0.3" textLength="123.20" lengthAdjust="spacingAndGlyphs">Team management</text>
<rect x="428.0" y="448.7" width="16" height="15.4" fill="#6a8cad" stroke="#34485c" stroke-width="1.2"/>
<text x="276.60" y="462.2" font-size="14" fill="#222224" stroke="#222224" stroke-width="0.3" textLength="144.89" lengthAdjust="spacingAndGlyphs">Customer service skills</text>
<rect x="433.5" y="471.7" width="16" height="15.4" fill="#6a8cad" stroke="#34485c" stroke-width="1.2"/>
<text x="286.40" y="484.7" font-size="14" fill="#222224" stroke="#222224" stroke-width="0.3" textLength="140.68" lengthAdjust="spacingAndGlyphs">Foreign language skills</text>
<circle cx="551.25" cy="190.5" r="8.2" fill="#d86b47" stroke="#7d3a2b" stroke-width="1.3"/>
<text x="565.00" y="195.7" font-size="14" fill="#222224" stroke="#222224" stroke-width="0.3" textLength="109.50" lengthAdjust="spacingAndGlyphs">Time management</text>
<circle cx="567.5" cy="216.75" r="8.2" fill="#d86b47" stroke="#7d3a2b" stroke-width="1.3"/>
<text x="581.25" y="221.7" font-size="14" fill="#222224" stroke="#222224" stroke-width="0.3" textLength="64.25" lengthAdjust="spacingAndGlyphs">Work ethic</text>
<circle cx="589.25" cy="244.5" r="8.2" fill="#d86b47" stroke="#7d3a2b" stroke-width="1.3"/>
<text x="602.50" y="250.2" font-size="14" fill="#222224" stroke="#222224" stroke-width="0.3" textLength="115.47" lengthAdjust="spacingAndGlyphs">Organisational skills</text>
<rect x="596.0" y="263.3" width="16" height="15.4" fill="#6a8cad" stroke="#34485c" stroke-width="1.2"/>
<text x="617.00" y="275.7" font-size="14" fill="#222224" stroke="#222224" stroke-width="0.3" textLength="122.53" lengthAdjust="spacingAndGlyphs">Project management</text>
<rect x="614.0" y="287.3" width="16" height="15.4" fill="#6a8cad" stroke="#34485c" stroke-width="1.2"/>
<text x="635.50" y="299.4" font-size="14" fill="#222224" stroke="#222224" stroke-width="0.3" textLength="124.02" lengthAdjust="spacingAndGlyphs">Basic computer skills</text>
<rect x="586.6" y="343.2" width="16" height="15.4" fill="#6a8cad" stroke="#34485c" stroke-width="1.2"/>
<text x="608.20" y="356.4" font-size="14" fill="#222224" stroke="#222224" stroke-width="0.3" textLength="123.79" lengthAdjust="spacingAndGlyphs">Stress management</text>
<rect x="577.4" y="364.90000000000003" width="16" height="15.4" fill="#6a8cad" stroke="#34485c" stroke-width="1.2"/>
<text x="598.50" y="378.0" font-size="14" fill="#222224" stroke="#222224" stroke-width="0.3" textLength="199.19" lengthAdjust="spacingAndGlyphs">Information technology (IT) skills</text>
<rect x="575.5" y="387.2" width="16" height="15.4" fill="#6a8cad" stroke="#34485c" stroke-width="1.2"/>
<text x="596.20" y="400.1" font-size="14" fill="#222224" stroke="#222224" stroke-width="0.3" textLength="111.09" lengthAdjust="spacingAndGlyphs">Presentation skills</text>
<rect x="547.7" y="421.6" width="16" height="15.4" fill="#6a8cad" stroke="#34485c" stroke-width="1.2"/>
<text x="574.30" y="434.8" font-size="14" fill="#222224" stroke="#222224" stroke-width="0.3" textLength="100.10" lengthAdjust="spacingAndGlyphs">Marketing skills</text>
<rect x="542.5" y="445.90000000000003" width="16" height="15.4" fill="#6a8cad" stroke="#34485c" stroke-width="1.2"/>
<text x="565.00" y="459.0" font-size="14" fill="#222224" stroke="#222224" stroke-width="0.3" textLength="77.33" lengthAdjust="spacingAndGlyphs">Design skills</text>
<text x="208.10" y="51.8" font-size="28.4" fill="#1b273a" stroke="#1b273a" stroke-width="1.05" textLength="47.35" lengthAdjust="spacingAndGlyphs">The</text>
<text x="263.60" y="51.8" font-size="28.4" fill="#1b273a" stroke="#1b273a" stroke-width="1.05" textLength="25.85" lengthAdjust="spacingAndGlyphs">21</text>
<text x="298.00" y="51.8" font-size="28.4" fill="#1b273a" stroke="#1b273a" stroke-width="1.05" textLength="61.84" lengthAdjust="spacingAndGlyphs">skills</text>
<text x="368.10" y="51.8" font-size="28.4" fill="#1b273a" stroke="#1b273a" stroke-width="1.05" textLength="132.64" lengthAdjust="spacingAndGlyphs">employers</text>
<text x="509.20" y="51.8" font-size="28.4" fill="#1b273a" stroke="#1b273a" stroke-width="1.05" textLength="111.07" lengthAdjust="spacingAndGlyphs">prioritize</text>
<text x="627.90" y="51.8" font-size="28.4" fill="#1b273a" stroke="#1b273a" stroke-width="1.05" textLength="33.66" lengthAdjust="spacingAndGlyphs">for</text>
<text x="668.40" y="51.8" font-size="28.4" fill="#1b273a" stroke="#1b273a" stroke-width="1.05" textLength="42.40" lengthAdjust="spacingAndGlyphs">the</text>
<text x="287.30" y="83" font-size="28.0" fill="#1b273a" stroke="#1b273a" stroke-width="1.05" textLength="64.59" lengthAdjust="spacingAndGlyphs">2026</text>
<text x="361.25" y="83" font-size="28.0" fill="#1b273a" stroke="#1b273a" stroke-width="1.05" textLength="154.41" lengthAdjust="spacingAndGlyphs">professional</text>
<text x="523.00" y="83" font-size="28.0" fill="#1b273a" stroke="#1b273a" stroke-width="1.05" textLength="128.98" lengthAdjust="spacingAndGlyphs">landscape</text>
<text x="377.00" y="133.4" font-size="19.8" fill="#1b273a" stroke="#1b273a" stroke-width="0.75" textLength="184.87" lengthAdjust="spacingAndGlyphs">The 2026 Skill Radar</text>
<text x="109.20" y="171.8" font-size="26.4" fill="#1b273a" stroke="#1b273a" stroke-width="1.05" textLength="104.28" lengthAdjust="spacingAndGlyphs">Cognitive</text>
<text x="721.90" y="171.8" font-size="25.8" fill="#1b273a" stroke="#1b273a" stroke-width="1.05" textLength="108.64" lengthAdjust="spacingAndGlyphs">Execution</text>
<text x="79.75" y="560.4" font-size="25.8" fill="#1b273a" stroke="#1b273a" stroke-width="1.05" textLength="156.19" lengthAdjust="spacingAndGlyphs">Collaboration</text>
<text x="656.00" y="560.6" font-size="26.4" fill="#1b273a" stroke="#1b273a" stroke-width="1.05" textLength="255.24" lengthAdjust="spacingAndGlyphs">Technical/Specialized</text>
<defs><clipPath id="brain"><path d="M832.5,39 C832,32 835,26 841,23.5 C847,21.5 854,22.5 858.5,27 C862,30.5 863,36 862.5,42 C862.5,47 861,50.5 857,52 L849.5,52.5 L848.5,43 L842,43.5 L836,41.5 Z"/></clipPath></defs>
<g clip-path="url(#brain)">
<rect x="830" y="20" width="36" height="36" fill="#e8306a"/>
<path d="M830,24 L846,24 L845,30 L841,34 L838,42 L830,42 Z" fill="#5b3bb5"/>
<path d="M836,22 L845,22 L846,29 L840,30 L835,27 Z" fill="#b83a9a"/>
<path d="M846,22 L856,24 L857,31 L849,31 L846,28 Z" fill="#f27424"/>
<path d="M841,30 L849,30 L848,35 L841,36 Z" fill="#2a6fd0"/>
<path d="M839,34 L848.5,33 L849,43 L840,43 Z" fill="#17a2e2"/>
<path d="M848,31 L857,31 L857,40 L849,41 Z" fill="#f8cf0a"/>
<path d="M856,37 L864,36 L864,44 L856,43 Z" fill="#1fa26a"/>
<path d="M852,39 L864,40 L864,46 L852,46 Z" fill="#9fcf30"/>
<path d="M848.5,40.5 L864,45 L864,54 L848.5,54 Z" fill="#33ad45"/>
</g>
<path d="M834,42 L837,47 M838,44 L841,49 L844,50 M843,45 L846,50 M850.5,52 L846.5,60 M854,53 L849.5,63" stroke="#6a6a6a" stroke-width="0.5" fill="none"/>

<text x="867.80" y="33.9" font-size="10.8" font-weight="bold" fill="#222" textLength="43.83" lengthAdjust="spacingAndGlyphs">NextGen</text>
<text x="867.80" y="42.3" font-size="7.8" fill="#6a6a6a" textLength="26.99" lengthAdjust="spacingAndGlyphs">learning</text>
<defs><linearGradient id="lg" x1="0" x2="1"><stop offset="0" stop-color="#c94fa0"/><stop offset="0.5" stop-color="#f0c020"/><stop offset="1" stop-color="#60c8c0"/></linearGradient></defs>
<rect x="868" y="47.5" width="54" height="1" fill="url(#lg)"/>
<rect x="868" y="51.2" width="26" height="1.6" fill="#cdc6c4"/>
</svg></body></html>
